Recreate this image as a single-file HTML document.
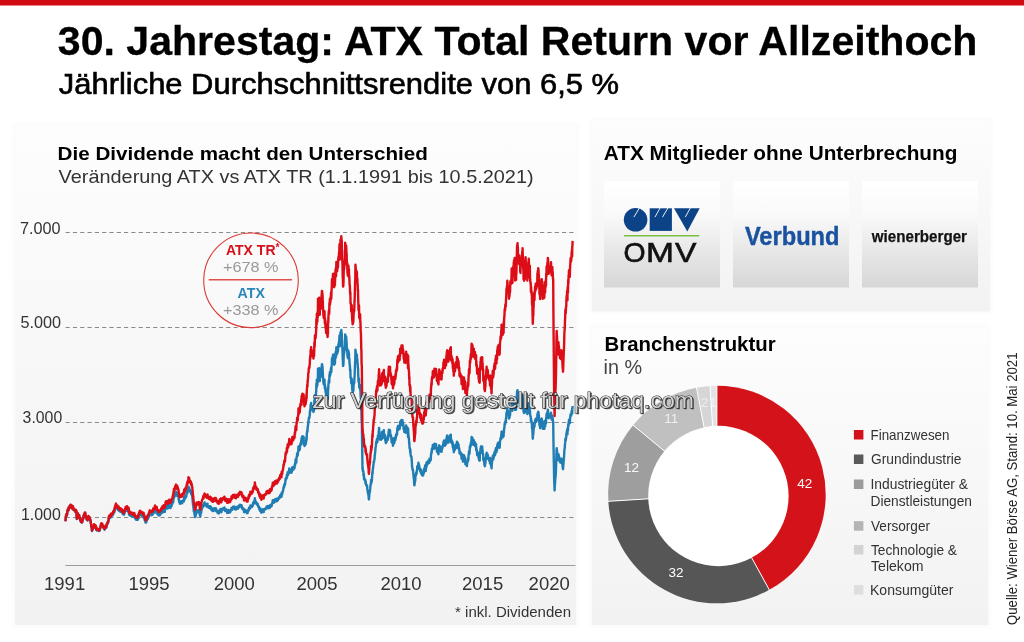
<!DOCTYPE html>
<html lang="de"><head><meta charset="utf-8"><title>30. Jahrestag: ATX Total Return vor Allzeithoch</title>
<style>
html,body{margin:0;padding:0;background:#fff;}
body{width:1024px;height:642px;overflow:hidden;}
svg{display:block;}
text{font-family:"Liberation Sans",Arial,Helvetica,sans-serif;}
</style></head><body>
<svg width="1024" height="642" viewBox="0 0 1024 642">
<defs>
<linearGradient id="gL" x1="0" y1="0" x2="0" y2="1">
<stop offset="0" stop-color="#fdfdfd"/><stop offset="0.35" stop-color="#f9f9f9"/><stop offset="1" stop-color="#f2f2f2"/>
</linearGradient>
<linearGradient id="gR" x1="0" y1="0" x2="0" y2="1">
<stop offset="0" stop-color="#fdfdfd"/><stop offset="1" stop-color="#f2f2f2"/>
</linearGradient>
<linearGradient id="gB" x1="0" y1="0" x2="0" y2="1">
<stop offset="0" stop-color="#ffffff"/><stop offset="0.3" stop-color="#fafafa"/><stop offset="1" stop-color="#d6d6d6"/>
</linearGradient>
<filter id="sh" x="-5%" y="-5%" width="110%" height="110%"><feGaussianBlur stdDeviation="2.5"/></filter>
</defs>
<rect x="0" y="0" width="1024" height="642" fill="#fff"/>
<rect x="0" y="0" width="1024" height="5.5" fill="#d20a11"/>

<!-- panels shadows -->
<rect x="13" y="124" width="565" height="503" fill="#000" opacity="0.02" filter="url(#sh)"/>
<rect x="590" y="118" width="402" height="195" fill="#000" opacity="0.018" filter="url(#sh)"/>
<rect x="590" y="325" width="400" height="302" fill="#000" opacity="0.018" filter="url(#sh)"/>
<!-- panels -->
<rect x="15" y="126" width="561" height="499" fill="url(#gL)"/>
<rect x="592" y="120" width="398" height="191.5" fill="url(#gR)"/>
<rect x="592" y="327.5" width="396" height="297.5" fill="url(#gR)"/>

<!-- titles -->
<text x="57.8" y="55.3" font-size="40" font-weight="bold" fill="#000" stroke="#000" stroke-width="0.3" textLength="919.6" lengthAdjust="spacingAndGlyphs">30. Jahrestag: ATX Total Return vor Allzeithoch</text>
<text x="58.8" y="94" font-size="28.6" fill="#000" stroke="#000" stroke-width="0.6" textLength="560.2" lengthAdjust="spacingAndGlyphs">Jährliche Durchschnittsrendite von 6,5 %</text>

<text x="57.6" y="160.1" font-size="18.4" font-weight="bold" fill="#000" textLength="370.2" lengthAdjust="spacingAndGlyphs">Die Dividende macht den Unterschied</text>
<text x="58.6" y="182.8" font-size="17.8" fill="#333" textLength="475" lengthAdjust="spacingAndGlyphs">Veränderung ATX vs ATX TR (1.1.1991 bis 10.5.2021)</text>

<!-- y axis -->
<g font-size="16.5" fill="#333">
<text x="20.00" y="233.5" textLength="40.60" lengthAdjust="spacingAndGlyphs">7.000</text>
<text x="20.40" y="327.8" textLength="40.60" lengthAdjust="spacingAndGlyphs">5.000</text>
<text x="22.60" y="422.5" textLength="39.60" lengthAdjust="spacingAndGlyphs">3.000</text>
<text x="21.00" y="519.6" textLength="39.80" lengthAdjust="spacingAndGlyphs">1.000</text>
</g>
<g stroke="#8a8a8a" stroke-width="1" stroke-dasharray="4.2 3.1" fill="none">
<path d="M65.6 232.5H574"/>
<path d="M65.6 327.5H574"/>
<path d="M65.6 422.5H574"/>
<path d="M65.6 517.5H574"/>
</g>
<path d="M65.4 565.5H575.5" stroke="#9c9c9c" stroke-width="1" fill="none"/>
<g font-size="18.5" fill="#333" text-anchor="middle">
<text x="64.6" y="590">1991</text>
<text x="149" y="590">1995</text>
<text x="234.3" y="590">2000</text>
<text x="317" y="590">2005</text>
<text x="401" y="590">2010</text>
<text x="482.6" y="590">2015</text>
<text x="549.2" y="590">2020</text>
</g>
<text x="571" y="616.6" font-size="15" fill="#333" text-anchor="end">* inkl. Dividenden</text>

<!-- chart lines -->
<path d="M65.50,521.2 65.65,518.6 65.80,516.5 65.97,516.3 66.14,515.6 66.31,514.1 66.49,515.7 66.66,515.4 66.83,515.5 67.00,515.0 67.16,513.6 67.32,512.5 67.48,510.7 67.64,510.4 67.80,509.6 67.97,509.6 68.14,509.1 68.31,508.3 68.47,509.3 68.64,510.3 68.81,507.5 68.98,508.0 69.15,507.7 69.32,506.9 69.49,507.7 69.66,507.2 69.83,505.7 69.99,506.5 70.16,505.8 70.33,506.3 70.50,505.0 70.67,505.0 70.83,506.6 71.00,507.8 71.17,506.9 71.33,505.9 71.50,505.5 71.67,507.6 71.83,506.6 72.00,506.2 72.17,507.7 72.33,508.7 72.50,507.3 72.67,506.2 72.85,507.3 73.02,508.5 73.19,507.5 73.36,509.0 73.54,510.0 73.71,508.9 73.88,510.1 74.05,510.1 74.23,510.2 74.40,510.6 74.57,509.8 74.73,510.8 74.90,510.8 75.07,511.1 75.23,511.8 75.40,510.1 75.57,511.9 75.73,510.3 75.90,510.2 76.07,511.4 76.23,512.3 76.40,511.3 76.60,515.4 76.80,519.1 76.96,518.6 77.11,518.7 77.27,516.8 77.43,515.6 77.59,515.0 77.74,514.3 77.90,513.7 78.07,514.2 78.23,516.2 78.40,515.6 78.57,516.3 78.73,516.0 78.90,515.9 79.07,516.5 79.23,515.6 79.40,517.4 79.57,518.5 79.73,518.0 79.90,519.2 80.07,518.6 80.25,520.4 80.42,519.8 80.59,521.5 80.76,521.7 80.94,521.1 81.11,521.4 81.28,522.2 81.45,522.5 81.63,521.7 81.80,522.4 81.96,522.6 82.12,521.2 82.28,520.4 82.44,521.9 82.60,519.9 82.76,519.6 82.92,518.6 83.08,519.4 83.24,518.8 83.40,517.8 83.57,517.6 83.73,515.5 83.90,516.8 84.07,514.8 84.23,514.2 84.40,514.7 84.57,513.7 84.73,514.3 84.90,513.2 85.07,512.9 85.23,512.9 85.40,515.4 85.57,516.1 85.73,515.8 85.90,516.3 86.07,517.5 86.23,517.5 86.40,518.7 86.57,518.8 86.73,519.7 86.90,518.6 87.07,519.1 87.25,519.3 87.42,519.5 87.59,520.6 87.76,518.8 87.94,518.6 88.11,518.1 88.28,517.8 88.45,516.6 88.63,517.0 88.80,517.1 88.96,517.5 89.12,518.1 89.28,517.4 89.44,518.0 89.60,518.7 89.76,518.6 89.92,520.0 90.08,519.9 90.24,520.6 90.40,520.2 90.56,521.1 90.72,522.6 90.88,523.6 91.04,524.1 91.20,526.3 91.36,527.1 91.52,527.6 91.68,527.2 91.84,530.3 92.00,531.0 92.16,530.2 92.31,530.3 92.47,530.0 92.63,528.9 92.79,527.9 92.94,527.5 93.10,527.2 93.26,526.2 93.42,526.1 93.58,528.0 93.74,527.3 93.90,526.9 94.06,525.0 94.22,526.2 94.38,525.9 94.54,526.7 94.70,525.7 94.87,526.3 95.05,526.5 95.22,526.6 95.39,525.8 95.56,528.2 95.74,527.9 95.91,526.7 96.08,527.4 96.25,530.0 96.43,529.3 96.60,528.8 96.77,529.5 96.94,530.5 97.11,530.0 97.29,529.7 97.46,529.2 97.63,529.4 97.80,529.5 97.97,530.0 98.14,529.8 98.31,530.0 98.49,530.1 98.66,529.8 98.83,531.1 99.00,531.1 99.16,530.4 99.33,530.5 99.49,530.8 99.66,530.6 99.82,529.7 99.99,529.3 100.15,528.6 100.31,527.5 100.48,527.7 100.64,527.5 100.81,525.8 100.97,525.1 101.14,524.2 101.30,524.3 101.47,524.0 101.63,524.9 101.80,524.9 101.97,524.7 102.13,524.3 102.30,525.4 102.47,525.4 102.63,526.7 102.80,526.9 102.97,526.4 103.13,526.9 103.30,527.4 103.47,527.4 103.65,528.4 103.82,528.6 103.99,528.4 104.16,528.8 104.34,528.0 104.51,529.7 104.68,529.3 104.85,529.2 105.03,528.2 105.20,528.2 105.36,527.7 105.52,526.6 105.68,527.6 105.84,527.9 106.00,527.4 106.16,527.3 106.32,527.9 106.48,527.0 106.64,525.0 106.80,525.2 106.97,524.8 107.13,524.2 107.30,523.8 107.47,523.3 107.63,523.9 107.80,523.8 107.97,522.9 108.13,522.0 108.30,522.2 108.46,521.6 108.62,519.9 108.78,518.0 108.94,517.9 109.10,516.8 109.26,516.7 109.43,516.6 109.59,517.2 109.76,517.4 109.92,516.6 110.09,518.0 110.25,516.5 110.41,517.6 110.58,517.2 110.74,517.5 110.91,515.0 111.07,515.7 111.24,516.0 111.40,515.4 111.57,515.1 111.74,515.7 111.91,516.0 112.09,515.4 112.26,514.8 112.43,515.3 112.60,515.3 112.77,514.8 112.94,513.7 113.11,514.3 113.29,514.2 113.46,512.4 113.63,512.2 113.80,512.4 113.96,512.4 114.13,511.4 114.29,512.3 114.46,510.6 114.62,510.4 114.79,508.6 114.95,508.8 115.11,507.7 115.28,509.4 115.44,508.3 115.61,506.5 115.77,505.7 115.94,505.3 116.10,506.4 116.27,506.9 116.44,508.3 116.61,508.0 116.79,507.5 116.96,507.4 117.13,507.1 117.30,507.2 117.47,507.1 117.64,507.8 117.81,508.3 117.99,508.8 118.16,510.0 118.33,507.9 118.50,508.7 118.67,508.2 118.83,510.7 119.00,509.2 119.17,510.0 119.33,510.3 119.50,510.2 119.67,510.7 119.83,510.4 120.00,509.9 120.17,510.9 120.33,511.8 120.50,510.5 120.67,510.5 120.83,511.2 121.00,510.5 121.17,510.5 121.33,510.8 121.50,510.6 121.67,511.3 121.83,512.5 122.00,511.3 122.17,511.8 122.33,511.8 122.50,512.4 122.67,513.2 122.83,514.1 123.00,513.4 123.17,512.7 123.33,514.6 123.50,513.4 123.67,512.7 123.83,513.9 124.00,513.6 124.17,514.6 124.34,512.8 124.51,512.2 124.67,512.3 124.84,511.1 125.01,511.3 125.18,510.5 125.35,510.7 125.52,509.8 125.68,509.0 125.85,510.0 126.02,509.7 126.19,509.5 126.36,510.7 126.53,509.6 126.69,509.5 126.86,509.7 127.03,508.2 127.20,509.3 127.36,510.8 127.53,509.6 127.69,510.3 127.85,510.9 128.02,510.9 128.18,511.7 128.34,510.4 128.51,511.8 128.67,510.0 128.83,513.8 128.99,513.1 129.16,514.1 129.32,515.2 129.48,514.6 129.65,514.2 129.81,513.4 129.97,513.8 130.14,514.5 130.30,515.4 130.47,515.6 130.64,515.4 130.81,515.7 130.98,515.4 131.15,516.0 131.32,515.6 131.49,515.6 131.66,514.6 131.83,515.5 132.00,515.6 132.17,516.5 132.33,515.6 132.50,515.3 132.67,516.6 132.84,515.6 133.01,515.5 133.18,516.6 133.35,515.8 133.52,516.7 133.69,515.6 133.86,516.0 134.03,515.2 134.20,515.6 134.37,515.4 134.54,516.1 134.71,517.3 134.89,518.0 135.06,517.5 135.23,517.7 135.40,518.0 135.57,519.0 135.74,518.5 135.91,518.8 136.09,519.7 136.26,518.8 136.43,518.4 136.60,518.7 136.76,519.0 136.93,519.9 137.09,519.1 137.25,518.5 137.42,518.8 137.58,519.4 137.74,519.7 137.91,519.6 138.07,517.6 138.23,517.7 138.39,516.7 138.56,518.5 138.72,516.4 138.88,516.6 139.05,515.9 139.21,514.6 139.37,515.2 139.54,514.9 139.70,514.4 139.86,513.2 140.03,513.9 140.19,514.8 140.35,513.8 140.52,514.2 140.68,514.0 140.84,515.0 141.01,514.1 141.17,514.6 141.33,515.3 141.49,515.2 141.66,514.8 141.82,515.0 141.98,514.8 142.15,515.3 142.31,515.8 142.47,515.1 142.64,516.0 142.80,515.3 142.97,515.6 143.14,515.2 143.31,517.3 143.47,516.4 143.64,515.7 143.81,517.6 143.98,517.0 144.15,518.6 144.32,518.1 144.48,518.5 144.65,520.2 144.82,519.7 144.99,519.6 145.16,519.5 145.33,521.6 145.49,522.5 145.66,521.0 145.83,522.1 146.00,522.1 146.17,522.5 146.33,521.9 146.50,520.3 146.66,520.2 146.83,520.6 146.99,519.4 147.16,519.9 147.32,519.0 147.49,518.7 147.65,518.0 147.82,517.6 147.98,518.7 148.15,517.7 148.31,517.2 148.48,517.0 148.64,516.8 148.81,516.5 148.97,515.5 149.14,515.4 149.30,514.9 149.47,514.6 149.63,513.7 149.80,513.4 149.97,513.9 150.14,513.9 150.31,514.4 150.49,514.2 150.66,514.4 150.83,514.6 151.00,515.0 151.17,514.7 151.34,514.9 151.51,515.2 151.69,513.8 151.86,514.6 152.03,515.0 152.20,515.0 152.36,514.0 152.53,514.5 152.69,513.8 152.85,514.0 153.02,514.2 153.18,511.8 153.34,512.9 153.51,512.1 153.67,512.6 153.83,512.5 153.99,511.7 154.16,512.0 154.32,511.7 154.48,512.0 154.65,512.5 154.81,509.6 154.97,509.1 155.14,510.7 155.30,510.0 155.46,510.5 155.63,511.5 155.79,512.0 155.95,511.7 156.12,512.0 156.28,512.0 156.44,511.1 156.61,510.4 156.77,510.8 156.93,512.3 157.09,513.8 157.26,513.7 157.42,514.0 157.58,514.0 157.75,513.4 157.91,514.2 158.07,513.5 158.24,514.4 158.40,515.3 158.56,514.9 158.72,514.9 158.88,514.3 159.04,514.0 159.20,515.5 159.36,515.3 159.52,514.3 159.68,514.6 159.84,514.8 160.00,514.3 160.17,514.4 160.34,514.9 160.50,513.7 160.67,513.5 160.84,513.9 161.01,512.6 161.18,513.2 161.35,512.8 161.51,511.8 161.68,511.4 161.85,511.5 162.02,512.5 162.19,511.2 162.35,510.7 162.52,510.2 162.69,512.5 162.86,511.3 163.03,510.7 163.20,509.9 163.36,510.9 163.53,510.3 163.70,511.2 163.87,509.5 164.03,511.1 164.20,510.4 164.36,511.4 164.53,510.1 164.69,511.1 164.86,511.9 165.02,508.9 165.19,508.7 165.35,508.0 165.52,506.8 165.68,506.8 165.85,508.3 166.01,506.9 166.18,506.0 166.34,506.7 166.51,508.2 166.67,507.1 166.84,507.3 167.00,507.5 167.17,508.0 167.33,508.6 167.50,507.2 167.66,506.9 167.83,505.9 167.99,507.6 168.15,507.6 168.32,506.7 168.48,508.0 168.65,507.5 168.81,505.3 168.97,507.6 169.14,506.3 169.30,504.8 169.47,505.5 169.65,505.7 169.82,506.0 169.99,506.2 170.16,506.0 170.34,506.4 170.51,508.0 170.68,507.3 170.85,506.4 171.03,505.6 171.20,505.8 171.37,505.3 171.55,506.0 171.72,504.4 171.89,504.7 172.06,504.4 172.24,503.8 172.41,503.1 172.58,502.4 172.75,502.9 172.93,501.1 173.10,500.8 173.27,502.2 173.45,498.3 173.62,499.0 173.79,497.6 173.96,495.5 174.14,496.8 174.31,496.3 174.48,496.8 174.65,495.2 174.83,494.3 175.00,494.2 175.18,493.2 175.35,493.2 175.53,493.3 175.70,493.1 175.88,492.1 176.05,491.7 176.22,494.1 176.40,493.0 176.58,494.3 176.75,495.7 176.93,493.0 177.10,492.7 177.28,494.6 177.45,494.5 177.62,493.9 177.80,494.5 177.98,494.8 178.16,496.5 178.34,496.7 178.52,496.8 178.70,498.8 178.88,500.6 179.05,500.0 179.22,502.2 179.40,502.7 179.57,502.3 179.75,502.6 179.92,503.8 180.10,503.2 180.28,503.1 180.45,501.7 180.62,502.8 180.80,501.8 180.97,501.8 181.15,502.2 181.32,502.1 181.50,502.5 181.67,501.2 181.85,503.3 182.02,501.1 182.19,503.2 182.36,501.9 182.54,501.9 182.71,500.8 182.88,500.5 183.05,501.4 183.23,501.1 183.40,500.1 183.56,500.9 183.73,501.6 183.89,499.8 184.05,498.6 184.22,497.0 184.38,498.6 184.55,499.7 184.71,498.5 184.87,498.6 185.04,498.4 185.20,496.2 185.37,497.6 185.55,496.4 185.72,497.6 185.89,495.5 186.06,496.3 186.24,496.6 186.41,495.5 186.58,493.4 186.75,493.8 186.93,492.6 187.10,491.4 187.27,491.7 187.45,492.9 187.62,490.4 187.79,489.8 187.96,490.3 188.14,489.5 188.31,488.7 188.48,486.6 188.65,487.0 188.83,488.5 189.00,487.4 189.16,487.2 189.33,490.1 189.49,488.9 189.65,489.9 189.82,491.6 189.98,489.9 190.15,490.4 190.31,492.0 190.47,490.6 190.64,490.6 190.80,491.3 190.98,491.5 191.15,493.9 191.32,494.1 191.50,494.5 191.68,493.3 191.85,495.3 192.02,495.6 192.20,495.9 192.38,497.4 192.55,499.9 192.72,501.1 192.90,503.2 193.07,505.2 193.25,504.5 193.42,507.7 193.60,508.5 193.78,511.5 193.95,510.3 194.12,512.0 194.30,511.9 194.47,514.0 194.65,514.6 194.82,515.4 195.00,517.0 195.18,515.4 195.35,515.9 195.53,516.6 195.70,515.0 195.88,513.4 196.05,513.8 196.22,512.1 196.40,512.1 196.57,510.6 196.75,512.7 196.92,510.8 197.09,511.6 197.26,511.8 197.44,511.2 197.61,510.7 197.78,510.6 197.95,510.9 198.13,512.3 198.30,510.4 198.47,510.1 198.65,511.0 198.82,511.3 198.99,510.1 199.16,512.3 199.34,512.8 199.51,512.6 199.68,514.0 199.85,515.4 200.03,515.0 200.20,515.9 200.37,516.4 200.55,514.0 200.72,512.5 200.89,512.1 201.06,513.1 201.24,511.5 201.41,510.2 201.58,509.9 201.75,509.5 201.93,508.5 202.10,508.5 202.26,507.7 202.43,507.5 202.59,507.0 202.76,507.2 202.92,506.1 203.09,506.6 203.25,504.8 203.41,504.5 203.58,506.5 203.74,504.8 203.91,504.3 204.07,503.5 204.24,504.0 204.40,502.8 204.58,502.4 204.75,503.0 204.93,503.6 205.10,503.9 205.28,504.2 205.45,504.1 205.62,503.8 205.80,504.6 205.97,504.6 206.15,505.9 206.32,505.8 206.49,505.7 206.66,505.2 206.84,506.7 207.01,506.2 207.18,505.5 207.35,505.1 207.53,503.7 207.70,505.0 207.86,506.0 208.03,506.5 208.19,506.3 208.35,506.6 208.52,505.9 208.68,507.9 208.85,506.4 209.01,507.8 209.17,508.0 209.34,508.0 209.50,507.7 209.66,507.2 209.83,507.5 209.99,507.4 210.16,506.2 210.32,507.5 210.49,506.8 210.65,509.0 210.82,507.0 210.98,507.1 211.15,508.0 211.31,508.5 211.48,510.0 211.64,509.3 211.81,507.9 211.97,508.8 212.14,509.5 212.30,509.9 212.47,509.1 212.63,511.1 212.80,510.5 212.96,510.1 213.13,511.1 213.29,510.5 213.46,509.9 213.62,509.9 213.79,508.6 213.95,508.9 214.12,509.3 214.28,508.2 214.45,508.2 214.61,508.5 214.78,508.4 214.94,508.9 215.11,509.7 215.27,510.6 215.44,509.1 215.60,509.9 215.77,508.3 215.93,509.2 216.10,508.9 216.26,509.2 216.43,511.5 216.59,510.6 216.75,511.0 216.92,510.6 217.08,511.4 217.25,511.9 217.41,512.2 217.57,511.4 217.74,513.0 217.90,512.2 218.07,511.7 218.23,511.9 218.40,511.1 218.56,511.6 218.73,513.5 218.89,511.3 219.06,512.0 219.22,512.3 219.39,512.2 219.55,512.0 219.72,512.3 219.88,509.4 220.05,510.6 220.21,510.5 220.38,510.8 220.54,509.3 220.71,508.9 220.87,509.4 221.04,511.9 221.20,511.7 221.37,512.2 221.53,510.0 221.70,510.7 221.87,510.9 222.04,510.5 222.20,510.5 222.37,509.7 222.54,509.6 222.71,508.5 222.88,508.6 223.05,509.4 223.21,509.2 223.38,508.2 223.55,508.6 223.72,508.7 223.89,508.9 224.05,508.9 224.22,508.4 224.39,507.4 224.56,509.9 224.73,510.2 224.90,509.3 225.06,510.9 225.23,511.0 225.40,510.0 225.57,510.3 225.73,510.1 225.90,509.7 226.06,509.3 226.23,510.2 226.39,509.6 226.56,510.5 226.72,510.5 226.89,511.6 227.05,512.3 227.22,512.9 227.38,511.5 227.55,512.0 227.71,511.9 227.88,511.6 228.04,510.8 228.21,510.8 228.37,510.0 228.54,511.4 228.70,512.8 228.87,511.5 229.03,511.4 229.20,511.8 229.40,511.6 229.60,512.3 229.77,512.2 229.94,511.1 230.11,512.4 230.28,511.9 230.45,510.6 230.62,509.9 230.78,510.2 230.95,510.6 231.12,510.6 231.29,510.2 231.46,507.9 231.63,508.5 231.80,509.5 231.97,507.9 232.14,508.8 232.31,509.7 232.48,508.1 232.65,508.1 232.82,507.0 232.98,506.7 233.15,507.0 233.32,507.0 233.49,506.8 233.66,507.4 233.83,507.5 234.00,507.3 234.17,506.7 234.33,507.6 234.50,508.1 234.67,506.6 234.83,509.3 235.00,509.1 235.17,507.1 235.33,508.7 235.50,507.6 235.67,509.6 235.83,508.6 236.00,509.6 236.17,507.6 236.33,507.8 236.50,509.0 236.67,507.3 236.83,507.5 237.00,507.8 237.17,507.4 237.33,506.8 237.50,507.8 237.67,508.0 237.83,507.5 238.00,508.7 238.17,506.6 238.33,507.2 238.50,506.3 238.67,507.6 238.83,505.8 239.00,507.0 239.17,507.2 239.33,506.0 239.50,505.6 239.67,506.0 239.83,506.1 240.00,504.6 240.17,504.8 240.33,505.5 240.50,505.9 240.67,505.4 240.84,505.7 241.01,506.5 241.18,505.1 241.35,506.1 241.52,505.2 241.68,506.0 241.85,506.9 242.02,508.0 242.19,508.3 242.36,508.9 242.53,507.5 242.70,509.4 242.87,509.2 243.04,508.7 243.21,509.3 243.38,508.9 243.55,508.5 243.72,509.5 243.88,509.3 244.05,512.1 244.22,510.5 244.39,512.2 244.56,511.7 244.73,511.4 244.90,510.7 245.06,511.8 245.22,509.9 245.38,510.4 245.55,511.8 245.71,510.2 245.87,511.1 246.03,510.5 246.19,511.8 246.35,511.7 246.52,512.5 246.68,511.7 246.84,513.2 247.00,512.6 247.17,513.0 247.34,513.0 247.51,513.1 247.68,512.3 247.85,511.8 248.02,511.3 248.18,510.5 248.35,511.0 248.52,509.1 248.69,510.7 248.86,509.3 249.03,507.8 249.20,509.4 249.37,508.5 249.54,508.5 249.71,507.7 249.88,507.7 250.05,508.5 250.22,507.3 250.38,505.4 250.55,507.3 250.72,507.2 250.89,507.1 251.06,506.4 251.23,506.1 251.40,506.8 251.56,506.5 251.73,507.0 251.90,506.9 252.06,506.1 252.22,505.5 252.39,505.1 252.56,506.1 252.72,504.7 252.88,505.6 253.05,502.9 253.22,504.3 253.38,502.6 253.54,503.7 253.71,503.6 253.88,501.4 254.04,502.2 254.20,502.7 254.37,502.7 254.53,500.6 254.70,500.9 254.87,498.3 255.04,499.5 255.21,500.8 255.37,501.3 255.54,502.1 255.71,501.7 255.88,502.1 256.05,501.8 256.22,503.4 256.38,504.0 256.55,502.7 256.72,504.5 256.89,503.4 257.06,503.6 257.23,504.6 257.39,504.2 257.56,504.5 257.73,504.0 257.90,505.5 258.06,505.2 258.23,506.9 258.39,506.3 258.56,506.2 258.72,506.5 258.89,507.7 259.06,507.0 259.22,508.8 259.38,508.6 259.55,509.7 259.71,510.1 259.88,510.4 260.04,509.7 260.21,511.1 260.38,508.5 260.54,510.3 260.70,510.5 260.87,511.3 261.03,511.7 261.20,511.9 261.37,512.8 261.53,512.5 261.69,512.2 261.86,511.7 262.02,511.0 262.19,509.5 262.36,510.8 262.52,510.2 262.69,509.6 262.85,509.8 263.01,511.6 263.18,509.3 263.34,511.6 263.51,510.8 263.68,512.1 263.84,510.0 264.00,510.3 264.17,509.6 264.33,509.5 264.50,509.6 264.67,509.0 264.83,509.6 265.00,509.3 265.16,509.2 265.33,508.5 265.49,509.2 265.66,509.2 265.82,508.9 265.99,508.1 266.15,508.6 266.32,508.3 266.48,506.6 266.65,508.0 266.82,506.8 266.98,507.5 267.15,507.8 267.31,508.0 267.48,506.9 267.64,506.2 267.81,506.0 267.97,506.0 268.14,508.0 268.30,507.0 268.47,507.2 268.63,508.3 268.80,508.3 268.97,507.1 269.13,506.2 269.30,507.1 269.46,507.2 269.62,507.6 269.79,507.8 269.96,505.2 270.12,506.1 270.29,506.1 270.45,506.3 270.62,505.0 270.78,505.8 270.94,505.6 271.11,506.5 271.28,506.2 271.44,505.4 271.61,506.0 271.77,504.6 271.94,503.5 272.10,503.4 272.27,503.2 272.43,502.4 272.60,502.2 272.76,500.3 272.93,501.4 273.09,502.5 273.25,503.0 273.42,501.5 273.58,501.8 273.75,501.8 273.92,502.5 274.08,501.1 274.25,500.0 274.41,500.2 274.57,500.4 274.74,501.1 274.90,499.8 275.07,499.3 275.23,500.5 275.40,500.3 275.57,501.6 275.73,499.5 275.90,499.7 276.06,499.5 276.23,500.3 276.39,498.8 276.56,500.3 276.72,500.3 276.89,500.7 277.05,501.2 277.22,500.6 277.38,500.7 277.55,499.9 277.72,500.4 277.88,499.9 278.05,500.1 278.21,499.4 278.38,498.4 278.54,497.9 278.71,497.8 278.87,498.0 279.04,498.6 279.20,497.2 279.37,496.8 279.53,496.7 279.70,498.1 279.87,496.7 280.03,497.3 280.19,495.1 280.36,497.1 280.52,496.4 280.69,496.3 280.86,494.8 281.02,494.5 281.19,495.4 281.35,493.9 281.51,496.9 281.68,492.7 281.84,492.8 282.01,494.2 282.18,494.5 282.34,493.4 282.50,491.9 282.67,491.9 282.83,491.6 283.00,490.9 283.17,489.8 283.34,489.4 283.51,487.3 283.68,487.8 283.85,487.0 284.02,487.5 284.18,485.5 284.35,484.4 284.52,485.8 284.69,485.3 284.86,483.8 285.03,484.7 285.20,482.7 285.36,481.0 285.52,479.8 285.68,478.5 285.85,478.8 286.01,479.4 286.17,479.1 286.33,478.4 286.49,477.2 286.65,477.5 286.82,474.9 286.98,478.0 287.14,475.9 287.30,474.6 287.47,474.2 287.63,472.3 287.80,472.7 287.96,473.5 288.12,474.9 288.29,473.5 288.46,473.7 288.62,471.4 288.79,471.7 288.95,470.6 289.12,470.5 289.28,468.4 289.44,471.1 289.61,469.1 289.78,469.3 289.94,470.6 290.11,470.7 290.27,472.6 290.44,470.8 290.60,470.1 290.77,471.9 290.93,470.4 291.10,472.7 291.26,469.7 291.43,472.3 291.59,472.5 291.75,469.6 291.92,471.5 292.08,468.8 292.25,467.3 292.42,469.7 292.58,470.1 292.75,469.8 292.91,467.2 293.07,469.7 293.24,469.7 293.40,469.1 293.57,468.2 293.73,467.1 293.90,468.0 294.07,467.3 294.24,468.5 294.41,467.0 294.58,468.0 294.75,464.4 294.92,464.8 295.08,465.3 295.25,462.9 295.42,461.4 295.59,459.4 295.76,460.8 295.93,460.8 296.10,460.9 296.27,462.6 296.44,459.4 296.61,457.0 296.77,457.1 296.94,457.0 297.11,453.4 297.28,455.4 297.45,455.0 297.62,455.6 297.78,455.1 297.95,452.3 298.12,451.5 298.29,451.7 298.46,446.5 298.63,451.2 298.79,449.4 298.96,449.0 299.13,448.0 299.30,448.2 299.47,446.4 299.63,445.9 299.80,449.8 299.96,447.0 300.12,446.3 300.29,444.4 300.46,443.5 300.62,443.1 300.79,443.7 300.95,443.4 301.12,441.8 301.28,440.3 301.44,444.4 301.61,438.0 301.78,438.2 301.94,437.2 302.11,438.5 302.27,437.2 302.44,436.1 302.60,436.5 302.77,438.6 302.94,441.5 303.11,438.6 303.28,441.2 303.45,440.8 303.62,436.9 303.78,439.4 303.95,440.9 304.12,444.7 304.29,441.6 304.46,446.0 304.63,445.6 304.80,445.6 304.97,442.5 305.13,444.8 305.30,444.7 305.46,443.9 305.62,444.4 305.79,443.9 305.96,440.8 306.12,442.2 306.29,439.4 306.45,437.4 306.62,440.4 306.78,434.9 306.94,432.6 307.11,432.1 307.28,430.2 307.44,431.8 307.61,427.5 307.77,427.9 307.94,425.5 308.10,424.9 308.27,421.7 308.44,421.4 308.61,421.4 308.77,418.2 308.94,418.7 309.11,417.4 309.28,418.2 309.45,417.5 309.62,415.7 309.78,415.4 309.95,411.0 310.12,411.9 310.29,409.1 310.46,410.8 310.63,404.9 310.79,407.9 310.96,408.9 311.13,403.0 311.30,406.7 311.47,408.7 311.64,408.2 311.81,407.0 311.98,406.4 312.15,409.2 312.32,407.7 312.48,408.4 312.65,410.0 312.82,409.3 312.99,406.1 313.16,410.4 313.33,411.7 313.50,411.9 313.67,407.5 313.84,410.2 314.01,410.3 314.19,407.2 314.36,400.4 314.53,403.8 314.70,402.9 314.87,396.7 315.04,395.0 315.21,397.1 315.39,395.6 315.56,397.5 315.73,395.8 315.90,394.9 316.06,392.4 316.22,391.5 316.38,383.4 316.54,383.3 316.70,387.6 316.86,379.6 317.02,383.9 317.18,384.4 317.34,385.5 317.50,381.4 317.67,378.3 317.83,382.2 318.00,368.8 318.17,371.7 318.33,372.3 318.50,378.5 318.67,375.4 318.83,377.6 319.00,372.6 319.16,368.3 319.32,374.7 319.48,376.0 319.64,377.1 319.80,381.1 319.96,376.7 320.12,375.7 320.28,372.8 320.44,377.1 320.60,376.5 320.77,375.2 320.93,372.7 321.10,376.5 321.27,373.7 321.43,370.7 321.60,367.1 321.77,367.0 321.93,364.1 322.10,364.3 322.26,369.2 322.42,366.0 322.58,368.3 322.74,371.5 322.90,374.8 323.06,377.9 323.22,378.4 323.38,382.2 323.54,382.9 323.70,384.1 323.86,384.4 324.03,383.8 324.19,384.7 324.36,381.1 324.52,379.7 324.69,385.6 324.85,388.4 325.01,385.1 325.18,389.4 325.34,387.0 325.51,390.9 325.67,392.4 325.84,389.9 326.00,393.7 326.16,396.0 326.32,393.0 326.48,389.7 326.64,390.9 326.80,394.2 326.96,395.8 327.12,392.1 327.28,394.0 327.44,398.2 327.60,399.2 327.77,395.8 327.93,397.3 328.10,387.8 328.27,389.4 328.43,383.9 328.60,383.1 328.77,380.9 328.93,380.5 329.10,379.8 329.26,382.8 329.42,374.9 329.58,376.9 329.74,374.9 329.90,372.0 330.06,376.0 330.22,374.2 330.38,374.4 330.54,373.5 330.70,372.3 330.86,369.7 331.02,368.0 331.18,372.3 331.34,371.2 331.50,366.9 331.66,365.4 331.82,363.4 331.98,358.3 332.14,361.8 332.30,360.2 332.48,358.8 332.65,360.5 332.82,357.4 333.00,354.8 333.16,359.0 333.32,358.6 333.48,354.8 333.64,358.3 333.80,361.9 333.96,361.0 334.12,364.8 334.28,362.8 334.44,360.4 334.60,364.2 334.76,358.5 334.92,363.6 335.08,359.9 335.24,358.4 335.40,354.8 335.56,352.6 335.72,351.8 335.88,352.4 336.04,357.4 336.20,352.4 336.36,347.2 336.53,352.6 336.69,354.1 336.86,350.5 337.02,349.6 337.19,354.0 337.35,347.9 337.51,350.0 337.68,350.6 337.84,351.7 338.01,350.6 338.17,346.3 338.34,345.9 338.50,344.1 338.67,344.8 338.83,344.7 339.00,341.4 339.17,342.4 339.33,338.9 339.50,335.4 339.67,341.3 339.83,346.4 340.00,335.5 340.16,336.1 340.32,338.1 340.48,332.3 340.64,336.3 340.80,334.3 340.96,337.3 341.12,335.7 341.28,330.0 341.44,331.4 341.60,333.1 341.76,333.2 341.92,342.0 342.08,339.8 342.24,346.4 342.40,348.4 342.56,352.4 342.72,359.8 342.88,358.4 343.04,365.9 343.20,365.8 343.37,364.4 343.53,362.0 343.70,355.4 343.87,354.4 344.03,350.1 344.20,353.3 344.37,349.3 344.53,350.7 344.70,347.9 344.86,346.0 345.02,344.9 345.18,334.4 345.34,336.4 345.50,342.1 345.66,339.8 345.82,344.2 345.98,338.4 346.14,336.4 346.30,337.8 346.46,343.4 346.62,341.8 346.78,347.1 346.94,348.9 347.10,351.2 347.27,348.9 347.43,355.9 347.60,353.9 347.77,357.7 347.93,356.9 348.10,358.3 348.27,352.6 348.43,350.8 348.60,354.4 348.76,355.4 348.92,353.3 349.08,358.7 349.24,358.0 349.40,359.9 349.56,363.9 349.72,364.2 349.88,365.6 350.04,369.3 350.20,371.0 350.37,369.6 350.53,377.7 350.70,377.2 350.87,378.7 351.03,378.4 351.20,383.1 351.37,382.0 351.53,383.5 351.70,378.8 351.86,383.8 352.02,385.6 352.18,388.8 352.34,390.1 352.50,391.1 352.66,392.5 352.82,388.3 352.98,391.8 353.14,389.7 353.30,390.9 353.47,388.1 353.63,385.4 353.80,383.6 353.97,382.0 354.13,383.3 354.30,381.4 354.47,377.0 354.63,375.4 354.80,370.8 354.96,366.3 355.12,361.2 355.28,362.0 355.44,349.6 355.60,350.7 355.76,353.1 355.92,358.8 356.08,358.1 356.24,353.6 356.40,356.5 356.56,356.2 356.72,354.6 356.88,354.9 357.04,359.2 357.20,361.7 357.37,359.7 357.53,363.8 357.70,363.5 357.87,368.3 358.03,367.6 358.20,374.8 358.37,377.3 358.53,382.0 358.70,380.7 358.86,382.4 359.02,378.6 359.18,387.6 359.34,387.2 359.50,386.7 359.66,384.9 359.82,387.8 359.98,388.7 360.14,385.0 360.30,390.6 360.46,390.0 360.62,395.7 360.78,397.6 360.94,399.2 361.10,403.4 361.26,410.2 361.42,410.7 361.58,420.7 361.74,421.0 361.90,426.3 362.05,439.5 362.20,446.1 362.35,459.4 362.50,469.3 362.67,467.2 362.84,471.1 363.01,470.7 363.18,470.8 363.35,471.4 363.52,475.8 363.68,475.4 363.85,474.1 364.02,479.4 364.19,477.5 364.36,479.0 364.53,479.7 364.70,480.2 364.87,479.5 365.04,479.4 365.21,480.4 365.38,480.1 365.55,483.8 365.72,481.4 365.88,482.8 366.05,484.6 366.22,485.3 366.39,485.3 366.56,485.5 366.73,485.5 366.90,486.5 367.07,485.5 367.24,488.1 367.41,489.8 367.58,490.2 367.75,492.0 367.92,492.2 368.08,493.6 368.25,494.1 368.42,495.0 368.59,495.9 368.76,498.7 368.93,499.3 369.10,497.4 369.27,495.5 369.44,491.7 369.61,493.1 369.78,490.7 369.95,491.7 370.12,489.2 370.28,488.2 370.45,485.5 370.62,484.2 370.79,484.8 370.96,482.7 371.13,479.7 371.30,480.6 371.46,483.0 371.62,480.2 371.78,481.0 371.95,479.6 372.11,476.1 372.27,473.8 372.43,471.7 372.59,473.8 372.75,470.2 372.92,468.8 373.08,468.1 373.24,465.7 373.40,465.7 373.56,463.6 373.73,461.6 373.89,462.4 374.06,461.6 374.22,460.2 374.39,459.5 374.56,458.8 374.72,455.3 374.88,455.0 375.05,453.2 375.21,451.8 375.38,450.1 375.54,447.2 375.71,447.2 375.88,445.9 376.04,443.9 376.20,441.9 376.37,443.4 376.53,442.9 376.70,440.4 376.87,439.9 377.04,439.0 377.21,439.8 377.38,442.3 377.55,438.8 377.72,438.3 377.88,436.1 378.05,435.5 378.22,436.5 378.39,435.8 378.56,435.6 378.73,431.3 378.90,432.1 379.07,427.9 379.24,431.8 379.41,431.9 379.58,435.0 379.75,434.8 379.92,439.6 380.08,436.8 380.25,435.7 380.42,436.6 380.59,437.1 380.76,436.4 380.93,439.8 381.10,437.4 381.26,437.6 381.42,439.0 381.58,437.0 381.75,439.1 381.91,434.9 382.07,431.9 382.23,436.6 382.39,438.0 382.55,436.5 382.72,432.5 382.88,436.7 383.04,431.4 383.20,432.1 383.37,432.8 383.53,431.6 383.69,432.6 383.86,430.1 384.02,435.4 384.19,435.5 384.36,436.8 384.52,436.6 384.69,438.1 384.85,438.6 385.01,435.0 385.18,436.5 385.34,440.9 385.51,440.6 385.68,441.8 385.84,443.1 386.00,441.3 386.17,439.8 386.33,441.1 386.50,442.1 386.67,440.2 386.84,438.9 387.01,439.6 387.18,439.2 387.35,438.3 387.52,439.1 387.68,437.1 387.85,439.8 388.02,438.4 388.19,435.3 388.36,435.4 388.53,432.0 388.70,431.0 388.87,429.7 389.03,431.5 389.19,434.8 389.36,432.5 389.52,435.1 389.69,431.8 389.86,432.7 390.02,430.2 390.19,433.6 390.35,434.1 390.51,436.5 390.68,434.8 390.84,435.2 391.01,435.6 391.18,437.0 391.34,438.9 391.50,439.6 391.67,442.3 391.83,442.5 392.00,442.5 392.17,442.7 392.33,441.0 392.50,441.9 392.67,441.3 392.83,443.5 393.00,445.8 393.17,441.8 393.33,440.7 393.50,438.3 393.67,443.9 393.83,443.4 394.00,440.2 394.17,439.3 394.33,443.0 394.50,438.3 394.67,439.0 394.83,439.1 395.00,439.0 395.17,439.5 395.34,440.3 395.50,436.9 395.67,438.9 395.84,437.1 396.01,434.7 396.18,435.1 396.35,435.4 396.51,435.5 396.68,433.7 396.85,433.0 397.02,434.6 397.19,431.1 397.35,428.0 397.52,428.2 397.69,429.9 397.86,426.7 398.03,425.9 398.20,429.9 398.36,429.3 398.53,426.8 398.70,427.5 398.87,425.6 399.03,427.3 399.19,428.2 399.36,428.5 399.52,429.0 399.69,428.6 399.86,425.1 400.02,426.6 400.19,421.6 400.35,423.0 400.51,424.0 400.68,423.7 400.84,423.4 401.01,423.6 401.18,422.6 401.34,423.1 401.50,419.9 401.67,425.0 401.83,422.9 402.00,423.6 402.17,422.5 402.34,424.7 402.51,420.3 402.68,423.2 402.85,423.7 403.02,422.9 403.18,424.1 403.35,425.6 403.52,426.9 403.69,429.4 403.86,428.1 404.03,429.2 404.20,430.7 404.36,432.1 404.52,431.9 404.68,429.1 404.85,428.5 405.01,428.7 405.17,429.9 405.33,429.3 405.49,432.7 405.65,429.2 405.82,426.5 405.98,427.5 406.14,425.4 406.30,428.4 406.47,432.0 406.64,429.4 406.81,431.8 406.98,432.4 407.15,431.7 407.32,431.7 407.48,427.8 407.65,431.9 407.82,430.1 407.99,436.6 408.16,428.8 408.33,434.2 408.50,434.8 408.67,437.7 408.84,438.8 409.01,439.1 409.18,443.9 409.35,442.7 409.52,448.3 409.68,448.1 409.85,447.9 410.02,449.1 410.19,452.6 410.36,449.5 410.53,453.8 410.70,455.1 410.87,456.1 411.04,456.6 411.21,456.2 411.38,457.2 411.55,457.1 411.72,460.7 411.88,462.5 412.05,466.5 412.22,467.0 412.39,468.3 412.56,469.8 412.73,469.5 412.90,469.6 413.07,471.0 413.23,473.0 413.40,475.0 413.57,476.1 413.73,478.3 413.90,478.4 414.07,480.8 414.23,484.9 414.40,485.3 414.57,484.3 414.74,483.0 414.91,482.2 415.08,480.6 415.25,480.9 415.42,476.5 415.59,476.2 415.76,474.4 415.93,475.1 416.10,473.0 416.27,472.5 416.44,472.7 416.61,473.7 416.78,470.6 416.95,471.0 417.12,470.3 417.28,466.1 417.45,468.2 417.62,467.9 417.79,468.3 417.96,466.2 418.13,466.1 418.30,463.7 418.47,462.8 418.64,464.5 418.81,464.5 418.98,465.5 419.15,465.1 419.32,468.1 419.48,468.9 419.65,468.0 419.82,469.4 419.99,468.5 420.16,470.6 420.33,471.6 420.50,471.0 420.67,471.3 420.84,469.8 421.01,473.2 421.18,469.6 421.35,472.9 421.52,472.5 421.68,474.5 421.85,472.5 422.02,473.8 422.19,475.4 422.36,475.1 422.53,474.7 422.70,475.6 422.87,475.3 423.04,475.1 423.21,475.2 423.38,473.2 423.55,472.1 423.72,473.4 423.88,471.1 424.05,470.3 424.22,468.7 424.39,470.5 424.56,470.7 424.73,467.8 424.90,469.1 425.07,465.5 425.24,466.8 425.41,467.2 425.57,470.3 425.74,471.0 425.91,468.3 426.08,467.1 426.25,468.0 426.42,463.1 426.58,465.2 426.75,462.3 426.92,465.7 427.09,464.2 427.26,463.7 427.43,464.2 427.59,462.2 427.76,463.7 427.93,462.3 428.10,462.9 428.26,460.6 428.43,462.9 428.59,463.0 428.76,463.0 428.92,463.1 429.09,463.1 429.25,461.4 429.41,460.8 429.58,458.6 429.74,460.5 429.91,461.3 430.07,459.9 430.24,459.3 430.40,459.3 430.56,458.7 430.72,460.3 430.88,457.2 431.04,454.2 431.20,454.5 431.36,452.4 431.52,451.5 431.68,452.9 431.84,448.9 432.00,449.6 432.16,449.1 432.31,448.0 432.47,448.3 432.63,449.3 432.79,444.9 432.94,447.5 433.10,447.1 433.27,445.5 433.44,447.0 433.61,447.6 433.78,445.8 433.95,448.9 434.12,446.9 434.28,444.9 434.45,443.7 434.62,445.7 434.79,443.9 434.96,446.4 435.13,444.5 435.30,445.5 435.46,445.3 435.61,447.0 435.77,446.7 435.93,446.8 436.09,444.2 436.24,448.4 436.40,448.5 436.56,448.4 436.72,448.0 436.88,451.6 437.04,449.8 437.20,451.1 437.36,449.8 437.52,450.6 437.68,451.4 437.84,451.7 438.00,453.5 438.16,448.0 438.31,453.3 438.47,454.3 438.63,449.6 438.79,449.5 438.94,447.8 439.10,445.8 439.26,445.3 439.42,448.0 439.58,447.9 439.74,447.2 439.90,446.5 440.06,448.1 440.22,451.1 440.38,449.8 440.54,449.4 440.70,450.1 440.87,451.6 441.04,450.3 441.21,450.1 441.38,450.6 441.55,451.9 441.72,449.6 441.88,447.4 442.05,447.9 442.22,447.4 442.39,448.3 442.56,445.7 442.73,446.6 442.90,445.3 443.07,445.4 443.24,445.4 443.41,442.8 443.58,441.8 443.75,443.1 443.92,443.5 444.08,440.4 444.25,441.5 444.42,441.7 444.59,442.0 444.76,443.9 444.93,445.8 445.10,442.5 445.26,441.3 445.42,441.8 445.58,441.6 445.74,441.5 445.90,443.2 446.06,444.3 446.22,442.8 446.38,438.6 446.54,438.9 446.70,438.3 446.87,436.3 447.04,439.8 447.21,435.5 447.38,435.7 447.55,438.8 447.72,441.6 447.89,442.5 448.06,440.7 448.23,442.5 448.40,442.6 448.56,441.2 448.72,441.8 448.88,439.4 449.04,436.6 449.20,438.4 449.36,440.6 449.52,441.4 449.68,436.5 449.84,436.7 450.00,436.1 450.16,435.2 450.32,437.1 450.48,436.5 450.64,435.8 450.80,434.6 450.96,439.8 451.12,439.2 451.28,442.6 451.44,442.6 451.60,440.1 451.76,442.7 451.91,442.2 452.07,441.4 452.23,443.1 452.39,444.8 452.54,442.1 452.70,444.2 452.86,447.5 453.01,444.6 453.17,444.3 453.33,449.4 453.49,448.5 453.64,449.3 453.80,452.2 453.96,449.7 454.12,450.6 454.28,448.8 454.44,446.5 454.60,447.1 454.76,446.6 454.92,448.8 455.08,449.8 455.24,446.0 455.40,446.0 455.57,446.3 455.74,446.1 455.91,444.5 456.08,447.0 456.25,444.6 456.42,447.0 456.58,446.9 456.75,447.8 456.92,441.7 457.09,445.1 457.26,445.4 457.43,443.0 457.60,442.9 457.76,442.7 457.91,445.8 458.07,447.0 458.23,446.5 458.39,446.0 458.54,444.5 458.70,446.7 458.86,449.5 459.01,448.0 459.17,448.3 459.33,449.4 459.49,453.2 459.64,452.8 459.80,452.7 459.96,452.0 460.12,452.5 460.28,452.0 460.44,452.5 460.60,454.6 460.76,453.0 460.92,453.3 461.08,453.6 461.24,453.5 461.40,455.6 461.57,458.7 461.74,457.0 461.91,455.8 462.08,454.2 462.25,456.6 462.42,457.7 462.59,458.9 462.76,458.5 462.93,461.7 463.10,460.3 463.26,457.6 463.42,458.9 463.58,456.4 463.74,457.0 463.90,455.1 464.06,456.0 464.22,457.2 464.38,456.4 464.54,458.3 464.70,457.5 464.86,458.8 465.01,457.8 465.17,461.0 465.33,464.3 465.49,461.4 465.64,464.0 465.80,463.4 465.96,463.6 466.11,464.5 466.27,462.3 466.43,464.0 466.59,463.1 466.74,465.4 466.90,466.1 467.06,463.7 467.22,461.6 467.38,462.9 467.54,461.3 467.70,460.9 467.86,458.8 468.02,460.5 468.18,460.8 468.34,460.2 468.50,456.9 468.67,454.3 468.84,454.7 469.01,451.3 469.18,451.1 469.35,453.3 469.52,453.6 469.69,450.4 469.86,446.4 470.03,447.3 470.20,447.6 470.36,445.8 470.51,444.6 470.67,445.9 470.83,442.8 470.99,444.8 471.14,445.2 471.30,442.8 471.46,439.6 471.62,436.9 471.79,437.2 471.95,438.8 472.11,438.6 472.28,438.7 472.44,437.9 472.60,439.3 472.78,441.3 472.95,441.7 473.12,443.7 473.30,442.8 473.48,444.8 473.65,441.6 473.82,440.2 474.00,443.9 474.16,444.7 474.32,442.2 474.48,442.2 474.64,445.5 474.80,445.0 474.96,442.3 475.12,443.2 475.28,446.4 475.44,444.1 475.60,446.1 475.76,444.9 475.91,446.2 476.07,444.3 476.23,450.2 476.39,447.8 476.54,450.6 476.70,450.6 476.86,450.2 477.02,453.2 477.18,455.2 477.34,452.2 477.50,452.9 477.66,454.7 477.82,452.5 477.98,455.5 478.14,453.7 478.30,455.3 478.46,454.4 478.61,457.9 478.77,458.4 478.93,458.7 479.09,460.2 479.24,459.8 479.40,460.4 479.56,457.6 479.71,460.7 479.87,454.6 480.03,451.8 480.19,452.1 480.34,453.5 480.50,448.7 480.66,451.4 480.81,447.7 480.97,446.5 481.13,447.4 481.29,448.1 481.44,447.5 481.60,447.7 481.76,450.1 481.91,447.6 482.07,446.4 482.23,446.6 482.39,452.9 482.54,449.8 482.70,452.2 482.86,453.5 483.01,454.5 483.17,453.8 483.33,460.1 483.49,460.1 483.64,459.7 483.80,459.2 483.96,459.2 484.11,460.7 484.27,462.2 484.43,465.2 484.59,462.6 484.74,465.5 484.90,466.2 485.06,464.5 485.21,461.7 485.37,464.2 485.53,459.7 485.69,457.5 485.84,460.0 486.00,457.7 486.16,458.2 486.32,454.4 486.48,454.3 486.64,452.6 486.80,458.6 486.96,456.0 487.12,454.6 487.28,456.9 487.44,454.2 487.60,454.8 487.77,454.9 487.94,456.3 488.11,459.0 488.28,457.6 488.45,458.1 488.62,457.8 488.78,458.1 488.95,460.2 489.12,460.0 489.29,459.0 489.46,461.1 489.63,458.6 489.80,458.8 489.96,463.5 490.12,458.0 490.28,459.8 490.44,463.4 490.60,464.3 490.76,462.2 490.92,462.3 491.08,465.7 491.24,462.4 491.40,467.1 491.56,468.4 491.71,465.1 491.87,463.9 492.03,462.1 492.19,460.2 492.34,458.7 492.50,458.0 492.67,456.7 492.84,455.8 493.01,456.2 493.18,459.6 493.35,458.0 493.52,458.3 493.69,457.2 493.86,455.3 494.03,454.6 494.20,453.4 494.36,452.8 494.52,452.0 494.68,454.1 494.85,452.6 495.01,455.2 495.17,454.2 495.33,452.1 495.49,449.7 495.65,450.7 495.82,450.4 495.98,447.9 496.14,451.9 496.30,450.6 496.46,452.3 496.61,448.7 496.77,450.4 496.93,450.2 497.09,449.8 497.24,445.1 497.40,446.5 497.57,445.2 497.74,443.3 497.91,443.2 498.08,444.6 498.25,442.7 498.42,445.4 498.59,444.1 498.76,442.4 498.93,442.7 499.10,444.4 499.26,444.1 499.42,447.9 499.58,442.5 499.74,447.5 499.90,442.6 500.06,441.1 500.22,440.6 500.38,439.6 500.54,437.9 500.70,439.2 500.87,438.6 501.04,439.2 501.21,434.9 501.38,438.0 501.55,431.6 501.72,433.7 501.88,435.7 502.05,434.5 502.22,435.2 502.39,437.2 502.56,437.5 502.73,437.3 502.90,434.7 503.07,434.4 503.24,433.2 503.41,434.5 503.58,436.5 503.75,430.3 503.92,432.7 504.08,429.4 504.25,427.6 504.42,427.8 504.59,424.6 504.76,423.4 504.93,423.3 505.10,424.4 505.28,421.9 505.46,421.0 505.64,422.4 505.82,421.6 506.00,418.6 506.17,417.5 506.33,415.4 506.50,412.7 506.67,413.7 506.84,412.0 507.01,411.0 507.18,410.7 507.35,408.4 507.52,409.7 507.69,411.5 507.86,414.1 508.03,411.6 508.20,411.8 508.36,412.2 508.52,413.8 508.68,413.4 508.84,416.1 509.00,418.6 509.16,415.9 509.32,415.6 509.48,417.7 509.64,415.5 509.80,414.6 509.95,415.3 510.10,414.8 510.25,410.6 510.40,409.3 510.56,409.5 510.72,410.2 510.88,410.9 511.04,410.8 511.20,408.8 511.36,409.6 511.52,406.4 511.68,402.5 511.84,407.2 512.00,407.8 512.16,410.5 512.31,408.6 512.47,410.7 512.63,404.4 512.79,407.2 512.94,405.8 513.10,404.5 513.26,402.0 513.41,402.3 513.57,402.5 513.73,399.9 513.89,401.1 514.04,398.7 514.20,401.8 514.36,401.3 514.51,400.7 514.67,397.5 514.83,402.1 514.99,404.1 515.14,409.9 515.30,408.5 515.46,407.9 515.61,408.5 515.77,403.3 515.93,409.7 516.09,409.6 516.24,405.5 516.40,406.4 516.57,402.8 516.73,397.4 516.90,395.2 517.07,391.4 517.23,394.5 517.40,390.7 517.55,390.1 517.70,395.6 517.85,392.2 518.00,396.3 518.17,398.3 518.33,399.4 518.50,401.2 518.66,401.6 518.81,400.3 518.97,399.3 519.13,400.2 519.29,402.3 519.44,397.6 519.60,400.4 519.75,400.0 519.90,401.3 520.05,402.1 520.20,406.6 520.36,406.4 520.51,407.6 520.67,401.6 520.83,403.5 520.99,400.8 521.14,399.5 521.30,401.7 521.46,402.7 521.61,404.1 521.77,403.8 521.93,404.1 522.09,400.1 522.24,396.9 522.40,399.3 522.57,395.1 522.73,398.2 522.90,401.0 523.07,401.9 523.23,406.6 523.40,406.7 523.56,412.0 523.71,406.9 523.87,410.3 524.03,408.0 524.19,413.1 524.34,412.0 524.50,411.2 524.66,412.1 524.81,412.5 524.97,404.9 525.13,405.6 525.29,403.0 525.44,402.6 525.60,401.1 525.76,405.7 525.91,403.3 526.07,404.0 526.23,408.6 526.39,405.5 526.54,406.3 526.70,407.4 526.86,406.8 527.01,408.5 527.17,409.5 527.33,414.1 527.49,409.9 527.64,409.3 527.80,410.1 527.96,412.8 528.11,408.6 528.27,410.0 528.43,406.2 528.59,405.3 528.74,403.1 528.90,404.7 529.06,408.1 529.21,409.2 529.37,408.3 529.53,411.7 529.69,413.4 529.84,407.2 530.00,412.6 530.16,414.9 530.31,415.5 530.47,416.5 530.63,416.3 530.79,417.6 530.94,421.5 531.10,418.7 531.26,421.4 531.41,420.9 531.57,421.3 531.73,423.6 531.89,422.8 532.04,428.4 532.20,426.1 532.35,427.6 532.50,432.3 532.65,435.4 532.80,438.7 532.97,436.3 533.13,433.5 533.30,434.7 533.47,429.8 533.63,430.4 533.80,425.6 533.96,423.3 534.12,426.6 534.28,423.0 534.44,426.9 534.60,425.0 534.76,422.4 534.92,423.2 535.08,420.3 535.24,420.0 535.40,422.5 535.57,420.5 535.74,418.8 535.91,420.1 536.08,419.9 536.25,421.7 536.42,419.2 536.59,420.7 536.76,420.9 536.93,420.3 537.10,418.6 537.26,419.2 537.41,414.3 537.57,414.4 537.73,413.1 537.89,415.2 538.04,416.7 538.20,411.7 538.36,412.5 538.51,412.4 538.67,415.3 538.83,415.0 538.99,418.1 539.14,419.6 539.30,421.6 539.47,425.5 539.63,425.0 539.80,426.0 539.97,425.6 540.13,428.2 540.30,426.4 540.47,423.6 540.64,426.6 540.81,423.8 540.98,422.8 541.15,419.7 541.32,423.1 541.49,418.8 541.66,418.5 541.83,418.8 542.00,420.8 542.16,421.7 542.31,425.6 542.47,422.5 542.63,425.5 542.79,428.9 542.94,424.5 543.10,425.1 543.26,428.6 543.41,427.3 543.57,425.4 543.73,427.0 543.89,428.9 544.04,427.1 544.20,427.6 544.36,428.9 544.52,423.8 544.68,421.0 544.84,424.0 545.00,423.7 545.16,426.5 545.32,421.3 545.48,424.2 545.64,421.9 545.80,420.4 545.96,423.4 546.11,418.9 546.27,417.2 546.43,418.8 546.59,413.9 546.74,415.0 546.90,416.4 547.07,413.3 547.23,415.1 547.40,412.1 547.56,413.1 547.71,412.8 547.87,409.8 548.03,410.2 548.19,412.6 548.34,417.3 548.50,414.7 548.67,418.2 548.84,415.0 549.01,415.4 549.18,417.1 549.35,417.4 549.52,416.2 549.69,416.0 549.86,416.6 550.03,414.9 550.20,414.6 550.36,416.9 550.51,416.5 550.67,415.4 550.83,414.3 550.99,412.8 551.14,414.7 551.30,417.6 551.47,418.5 551.63,419.6 551.80,416.9 551.97,417.1 552.13,415.5 552.30,415.7 552.48,418.1 552.66,418.0 552.84,420.0 553.02,422.1 553.20,421.9 553.40,437.4 553.60,449.7 553.75,458.8 553.90,465.6 554.05,475.0 554.20,480.5 554.40,484.8 554.60,490.5 554.75,487.0 554.90,484.8 555.05,483.1 555.20,480.0 555.35,477.9 555.50,477.8 555.65,475.7 555.80,473.5 555.98,469.5 556.16,464.2 556.34,457.5 556.52,451.1 556.70,448.3 556.88,450.8 557.05,450.9 557.23,456.4 557.40,458.8 557.57,460.1 557.75,458.0 557.92,456.1 558.10,457.8 558.27,456.2 558.45,454.1 558.62,456.2 558.80,456.2 558.97,456.0 559.15,458.8 559.33,459.0 559.50,460.5 559.67,460.4 559.85,461.4 560.03,462.2 560.20,461.3 560.37,461.1 560.53,461.4 560.70,462.5 560.87,462.5 561.03,462.7 561.20,460.8 561.37,458.4 561.53,460.1 561.70,460.4 561.86,461.0 562.03,462.7 562.19,460.3 562.35,464.4 562.51,465.5 562.67,467.7 562.84,467.1 563.00,469.2 563.16,467.9 563.32,465.2 563.48,463.8 563.64,461.3 563.80,459.5 563.97,457.9 564.15,454.9 564.33,451.0 564.50,449.2 564.67,448.6 564.85,446.6 565.03,443.6 565.20,442.4 565.38,439.1 565.55,438.5 565.73,440.6 565.90,439.0 566.07,437.2 566.24,437.5 566.41,433.8 566.59,433.2 566.76,431.8 566.93,432.8 567.10,429.8 567.27,430.1 567.44,434.4 567.61,428.5 567.78,427.7 567.95,430.8 568.12,426.9 568.28,424.3 568.45,426.3 568.62,422.2 568.79,422.8 568.96,419.8 569.13,423.0 569.30,421.5 569.47,423.0 569.64,421.8 569.81,423.2 569.98,419.8 570.15,417.5 570.32,417.2 570.48,415.1 570.65,414.1 570.82,415.9 570.99,415.8 571.16,415.4 571.33,414.6 571.50,413.3 571.66,411.2 571.81,412.9 571.97,410.1 572.13,413.6 572.29,408.4 572.44,408.6 572.60,406.0" fill="none" stroke="#1f7db3" stroke-width="2.4" stroke-linejoin="round"/>
<path d="M65.50,521.2 65.65,518.6 65.80,516.5 65.97,516.3 66.14,515.5 66.31,514.1 66.49,515.7 66.66,515.4 66.83,515.5 67.00,515.0 67.16,513.5 67.32,512.4 67.48,510.6 67.64,510.3 67.80,509.5 67.97,509.5 68.14,509.0 68.31,508.2 68.47,509.2 68.64,510.3 68.81,507.4 68.98,507.9 69.15,507.6 69.32,506.7 69.49,507.6 69.66,507.0 69.83,505.6 69.99,506.3 70.16,505.7 70.33,506.1 70.50,504.8 70.67,504.8 70.83,506.4 71.00,507.6 71.17,506.8 71.33,505.7 71.50,505.3 71.67,507.4 71.83,506.4 72.00,506.0 72.17,507.5 72.33,508.5 72.50,507.1 72.67,506.0 72.85,507.0 73.02,508.2 73.19,507.3 73.36,508.7 73.54,509.8 73.71,508.6 73.88,509.9 74.05,509.8 74.23,509.9 74.40,510.3 74.57,509.5 74.73,510.5 74.90,510.5 75.07,510.8 75.23,511.6 75.40,509.8 75.57,511.6 75.73,510.0 75.90,509.8 76.07,511.1 76.23,512.0 76.40,511.0 76.60,515.1 76.80,518.8 76.96,518.3 77.11,518.4 77.27,516.5 77.43,515.3 77.59,514.7 77.74,514.0 77.90,513.4 78.07,513.9 78.23,515.9 78.40,515.3 78.57,515.9 78.73,515.6 78.90,515.5 79.07,516.2 79.23,515.2 79.40,517.0 79.57,518.1 79.73,517.6 79.90,518.8 80.07,518.2 80.25,520.0 80.42,519.4 80.59,521.1 80.76,521.3 80.94,520.7 81.11,521.0 81.28,521.9 81.45,522.2 81.63,521.3 81.80,522.0 81.96,522.2 82.12,520.8 82.28,520.0 82.44,521.5 82.60,519.5 82.76,519.2 82.92,518.1 83.08,519.0 83.24,518.3 83.40,517.3 83.57,517.1 83.73,515.0 83.90,516.3 84.07,514.3 84.23,513.7 84.40,514.2 84.57,513.2 84.73,513.7 84.90,512.6 85.07,512.4 85.23,512.4 85.40,514.8 85.57,515.5 85.73,515.3 85.90,515.7 86.07,517.0 86.23,517.0 86.40,518.1 86.57,518.3 86.73,519.2 86.90,518.1 87.07,518.6 87.25,518.8 87.42,518.9 87.59,520.0 87.76,518.3 87.94,518.1 88.11,517.5 88.28,517.2 88.45,516.0 88.63,516.3 88.80,516.5 88.96,516.9 89.12,517.5 89.28,516.8 89.44,517.4 89.60,518.1 89.76,518.0 89.92,519.4 90.08,519.3 90.24,520.0 90.40,519.6 90.56,520.5 90.72,522.0 90.88,523.1 91.04,523.5 91.20,525.7 91.36,526.6 91.52,527.0 91.68,526.7 91.84,529.8 92.00,530.5 92.16,529.7 92.31,529.8 92.47,529.5 92.63,528.4 92.79,527.3 92.94,526.9 93.10,526.6 93.26,525.7 93.42,525.5 93.58,527.4 93.74,526.7 93.90,526.3 94.06,524.3 94.22,525.6 94.38,525.3 94.54,526.1 94.70,525.1 94.87,525.7 95.05,525.9 95.22,526.0 95.39,525.2 95.56,527.6 95.74,527.3 95.91,526.1 96.08,526.8 96.25,529.4 96.43,528.7 96.60,528.2 96.77,528.9 96.94,529.9 97.11,529.3 97.29,529.1 97.46,528.6 97.63,528.8 97.80,528.9 97.97,529.4 98.14,529.1 98.31,529.4 98.49,529.5 98.66,529.2 98.83,530.5 99.00,530.5 99.16,529.8 99.33,529.9 99.49,530.2 99.66,529.9 99.82,529.0 99.99,528.7 100.15,527.9 100.31,526.8 100.48,527.0 100.64,526.8 100.81,525.1 100.97,524.4 101.14,523.4 101.30,523.5 101.47,523.2 101.63,524.2 101.80,524.1 101.97,523.9 102.13,523.5 102.30,524.6 102.47,524.6 102.63,525.9 102.80,526.2 102.97,525.6 103.13,526.1 103.30,526.6 103.47,526.6 103.65,527.6 103.82,527.9 103.99,527.7 104.16,528.0 104.34,527.2 104.51,529.0 104.68,528.5 104.85,528.5 105.03,527.4 105.20,527.4 105.36,526.9 105.52,525.7 105.68,526.7 105.84,527.1 106.00,526.6 106.16,526.5 106.32,527.1 106.48,526.2 106.64,524.1 106.80,524.3 106.97,523.9 107.13,523.3 107.30,522.9 107.47,522.3 107.63,523.0 107.80,522.9 107.97,521.9 108.13,521.0 108.30,521.2 108.46,520.5 108.62,518.8 108.78,516.9 108.94,516.8 109.10,515.7 109.26,515.5 109.43,515.5 109.59,516.0 109.76,516.3 109.92,515.4 110.09,516.9 110.25,515.3 110.41,516.4 110.58,516.0 110.74,516.3 110.91,513.7 111.07,514.5 111.24,514.8 111.40,514.2 111.57,513.8 111.74,514.5 111.91,514.8 112.09,514.2 112.26,513.5 112.43,514.0 112.60,514.0 112.77,513.5 112.94,512.3 113.11,512.9 113.29,512.9 113.46,511.0 113.63,510.8 113.80,511.0 113.96,511.0 114.13,510.0 114.29,510.9 114.46,509.2 114.62,508.9 114.79,507.1 114.95,507.3 115.11,506.2 115.28,507.9 115.44,506.8 115.61,504.9 115.77,504.1 115.94,503.6 116.10,504.8 116.27,505.3 116.44,506.7 116.61,506.4 116.79,505.9 116.96,505.8 117.13,505.4 117.30,505.5 117.47,505.5 117.64,506.1 117.81,506.7 117.99,507.2 118.16,508.4 118.33,506.3 118.50,507.1 118.67,506.6 118.83,509.1 119.00,507.6 119.17,508.4 119.33,508.7 119.50,508.6 119.67,509.1 119.83,508.8 120.00,508.2 120.17,509.3 120.33,510.2 120.50,508.8 120.67,508.9 120.83,509.6 121.00,508.8 121.17,508.8 121.33,509.2 121.50,508.9 121.67,509.6 121.83,510.8 122.00,509.6 122.17,510.1 122.33,510.1 122.50,510.7 122.67,511.5 122.83,512.4 123.00,511.7 123.17,511.0 123.33,513.0 123.50,511.7 123.67,511.0 123.83,512.2 124.00,511.9 124.17,512.9 124.34,511.0 124.51,510.4 124.67,510.5 124.84,509.3 125.01,509.4 125.18,508.6 125.35,508.8 125.52,507.8 125.68,507.0 125.85,508.0 126.02,507.8 126.19,507.5 126.36,508.7 126.53,507.6 126.69,507.5 126.86,507.6 127.03,506.1 127.20,507.2 127.36,508.8 127.53,507.6 127.69,508.2 127.85,508.9 128.02,508.9 128.18,509.7 128.34,508.3 128.51,509.8 128.67,507.8 128.83,511.8 128.99,511.1 129.16,512.2 129.32,513.3 129.48,512.6 129.65,512.2 129.81,511.4 129.97,511.7 130.14,512.5 130.30,513.4 130.47,513.6 130.64,513.4 130.81,513.7 130.98,513.4 131.15,514.0 131.32,513.5 131.49,513.6 131.66,512.5 131.83,513.4 132.00,513.5 132.17,514.4 132.33,513.5 132.50,513.2 132.67,514.6 132.84,513.5 133.01,513.4 133.18,514.6 133.35,513.7 133.52,514.7 133.69,513.5 133.86,513.9 134.03,513.0 134.20,513.4 134.37,513.2 134.54,514.0 134.71,515.2 134.89,515.9 135.06,515.4 135.23,515.5 135.40,515.9 135.57,516.9 135.74,516.4 135.91,516.7 136.09,517.6 136.26,516.7 136.43,516.3 136.60,516.6 136.76,516.8 136.93,517.8 137.09,516.9 137.25,516.3 137.42,516.7 137.58,517.2 137.74,517.5 137.91,517.5 138.07,515.4 138.23,515.4 138.39,514.3 138.56,516.2 138.72,514.1 138.88,514.2 139.05,513.5 139.21,512.1 139.37,512.7 139.54,512.4 139.70,511.9 139.86,510.7 140.03,511.4 140.19,512.3 140.35,511.2 140.52,511.6 140.68,511.4 140.84,512.4 141.01,511.5 141.17,512.0 141.33,512.8 141.49,512.6 141.66,512.3 141.82,512.4 141.98,512.2 142.15,512.7 142.31,513.3 142.47,512.5 142.64,513.4 142.80,512.7 142.97,513.0 143.14,512.6 143.31,514.8 143.47,513.8 143.64,513.0 143.81,515.0 143.98,514.4 144.15,516.1 144.32,515.6 144.48,515.9 144.65,517.8 144.82,517.2 144.99,517.1 145.16,517.0 145.33,519.3 145.49,520.2 145.66,518.6 145.83,519.7 146.00,519.7 146.17,520.1 146.33,519.5 146.50,517.8 146.66,517.7 146.83,518.1 146.99,516.9 147.16,517.3 147.32,516.3 147.49,516.0 147.65,515.3 147.82,514.9 147.98,516.1 148.15,515.0 148.31,514.5 148.48,514.2 148.64,514.0 148.81,513.7 148.97,512.6 149.14,512.5 149.30,512.0 149.47,511.6 149.63,510.7 149.80,510.3 149.97,510.8 150.14,510.8 150.31,511.3 150.49,511.2 150.66,511.3 150.83,511.5 151.00,512.0 151.17,511.7 151.34,511.8 151.51,512.2 151.69,510.7 151.86,511.5 152.03,511.9 152.20,511.9 152.36,510.9 152.53,511.4 152.69,510.7 152.85,510.8 153.02,511.0 153.18,508.5 153.34,509.6 153.51,508.7 153.67,509.3 153.83,509.1 153.99,508.3 154.16,508.6 154.32,508.3 154.48,508.6 154.65,509.1 154.81,506.0 154.97,505.5 155.14,507.2 155.30,506.4 155.46,506.9 155.63,508.1 155.79,508.5 155.95,508.2 156.12,508.6 156.28,508.5 156.44,507.6 156.61,506.8 156.77,507.2 156.93,508.8 157.09,510.3 157.26,510.3 157.42,510.5 157.58,510.6 157.75,509.9 157.91,510.7 158.07,510.0 158.24,511.0 158.40,511.9 158.56,511.4 158.72,511.5 158.88,510.9 159.04,510.5 159.20,512.1 159.36,511.9 159.52,510.8 159.68,511.1 159.84,511.3 160.00,510.8 160.17,510.9 160.34,511.4 160.50,510.1 160.67,509.9 160.84,510.3 161.01,508.9 161.18,509.5 161.35,509.0 161.51,508.0 161.68,507.6 161.85,507.6 162.02,508.7 162.19,507.2 162.35,506.7 162.52,506.2 162.69,508.6 162.86,507.3 163.03,506.6 163.20,505.8 163.36,506.9 163.53,506.1 163.70,507.1 163.87,505.3 164.03,507.0 164.20,506.3 164.36,507.3 164.53,505.8 164.69,506.9 164.86,507.8 165.02,504.5 165.19,504.2 165.35,503.5 165.52,502.2 165.68,502.2 165.85,503.7 166.01,502.3 166.18,501.2 166.34,502.0 166.51,503.6 166.67,502.4 166.84,502.6 167.00,502.8 167.17,503.4 167.33,504.0 167.50,502.4 167.66,502.1 167.83,501.0 167.99,502.8 168.15,502.8 168.32,501.8 168.48,503.2 168.65,502.6 168.81,500.3 168.97,502.7 169.14,501.3 169.30,499.6 169.47,500.4 169.65,500.6 169.82,500.9 169.99,501.1 170.16,500.9 170.34,501.3 170.51,503.0 170.68,502.3 170.85,501.3 171.03,500.4 171.20,500.5 171.37,500.0 171.55,500.7 171.72,498.9 171.89,499.3 172.06,498.9 172.24,498.2 172.41,497.5 172.58,496.7 172.75,497.2 172.93,495.2 173.10,494.9 173.27,496.4 173.45,492.1 173.62,492.8 173.79,491.3 173.96,489.0 174.14,490.4 174.31,489.8 174.48,490.4 174.65,488.6 174.83,487.6 175.00,487.4 175.18,486.3 175.35,486.3 175.53,486.4 175.70,486.1 175.88,485.1 176.05,484.6 176.22,487.1 176.40,486.0 176.58,487.4 176.75,488.8 176.93,485.9 177.10,485.6 177.28,487.7 177.45,487.5 177.62,486.8 177.80,487.4 177.98,487.8 178.16,489.6 178.34,489.8 178.52,489.9 178.70,492.1 178.88,494.1 179.05,493.3 179.22,495.7 179.40,496.3 179.57,495.9 179.75,496.1 179.92,497.4 180.10,496.8 180.28,496.6 180.45,495.1 180.62,496.3 180.80,495.2 180.97,495.1 181.15,495.5 181.32,495.5 181.50,495.8 181.67,494.4 181.85,496.7 182.02,494.3 182.19,496.6 182.36,495.1 182.54,495.0 182.71,493.9 182.88,493.5 183.05,494.5 183.23,494.1 183.40,493.0 183.56,493.8 183.73,494.6 183.89,492.6 184.05,491.2 184.22,489.4 184.38,491.2 184.55,492.4 184.71,491.1 184.87,491.1 185.04,490.9 185.20,488.4 185.37,490.0 185.55,488.6 185.72,489.9 185.89,487.5 186.06,488.4 186.24,488.8 186.41,487.5 186.58,485.1 186.75,485.6 186.93,484.3 187.10,482.8 187.27,483.1 187.45,484.5 187.62,481.6 187.79,481.0 187.96,481.5 188.14,480.6 188.31,479.6 188.48,477.3 188.65,477.8 188.83,479.3 189.00,478.1 189.16,477.8 189.33,481.0 189.49,479.6 189.65,480.7 189.82,482.5 189.98,480.6 190.15,481.1 190.31,482.8 190.47,481.1 190.64,481.1 190.80,481.8 190.98,482.0 191.15,484.7 191.32,484.8 191.50,485.2 191.68,483.8 191.85,486.0 192.02,486.2 192.20,486.5 192.38,488.2 192.55,491.0 192.72,492.3 192.90,494.6 193.07,496.8 193.25,496.0 193.42,499.6 193.60,500.5 193.78,503.8 193.95,502.5 194.12,504.3 194.30,504.1 194.47,506.6 194.65,507.2 194.82,508.0 195.00,509.9 195.18,508.0 195.35,508.6 195.53,509.4 195.70,507.6 195.88,505.8 196.05,506.2 196.22,504.2 196.40,504.3 196.57,502.6 196.75,505.0 196.92,502.8 197.09,503.8 197.26,504.0 197.44,503.3 197.61,502.8 197.78,502.7 197.95,503.1 198.13,504.6 198.30,502.4 198.47,502.1 198.65,503.2 198.82,503.5 198.99,502.2 199.16,504.7 199.34,505.2 199.51,505.0 199.68,506.7 199.85,508.3 200.03,507.8 200.20,508.9 200.37,509.5 200.55,506.7 200.72,505.0 200.89,504.5 201.06,505.7 201.24,503.9 201.41,502.5 201.58,502.0 201.75,501.6 201.93,500.5 202.10,500.5 202.26,499.6 202.43,499.3 202.59,498.8 202.76,499.1 202.92,497.8 203.09,498.4 203.25,496.4 203.41,496.0 203.58,498.3 203.74,496.4 203.91,495.9 204.07,495.0 204.24,495.4 204.40,494.0 204.58,493.6 204.75,494.2 204.93,494.8 205.10,495.2 205.28,495.5 205.45,495.3 205.62,494.9 205.80,495.8 205.97,495.8 206.15,497.2 206.32,497.0 206.49,496.8 206.66,496.2 206.84,497.9 207.01,497.4 207.18,496.5 207.35,496.1 207.53,494.4 207.70,495.8 207.86,496.9 208.03,497.4 208.19,497.2 208.35,497.5 208.52,496.7 208.68,498.9 208.85,497.1 209.01,498.8 209.17,499.0 209.34,498.9 209.50,498.6 209.66,498.0 209.83,498.3 209.99,498.1 210.16,496.7 210.32,498.2 210.49,497.3 210.65,499.8 210.82,497.5 210.98,497.5 211.15,498.5 211.31,499.1 211.48,500.8 211.64,500.0 211.81,498.2 211.97,499.3 212.14,500.1 212.30,500.5 212.47,499.6 212.63,501.9 212.80,501.2 212.96,500.6 213.13,501.7 213.29,501.0 213.46,500.3 213.62,500.3 213.79,498.7 213.95,499.0 214.12,499.5 214.28,498.2 214.45,498.0 214.61,498.4 214.78,498.2 214.94,498.8 215.11,499.8 215.27,500.8 215.44,499.0 215.60,499.8 215.77,498.0 215.93,499.0 216.10,498.6 216.26,499.0 216.43,501.6 216.59,500.6 216.75,501.0 216.92,500.6 217.08,501.4 217.25,502.1 217.41,502.5 217.57,501.4 217.74,503.4 217.90,502.4 218.07,501.8 218.23,502.1 218.40,501.1 218.56,501.7 218.73,503.9 218.89,501.3 219.06,502.2 219.22,502.5 219.39,502.4 219.55,502.2 219.72,502.4 219.88,499.1 220.05,500.4 220.21,500.3 220.38,500.7 220.54,498.9 220.71,498.5 220.87,499.0 221.04,502.0 221.20,501.7 221.37,502.3 221.53,499.7 221.70,500.5 221.87,500.7 222.04,500.3 222.20,500.3 222.37,499.3 222.54,499.2 222.71,497.9 222.88,498.0 223.05,499.0 223.21,498.8 223.38,497.6 223.55,497.9 223.72,498.1 223.89,498.3 224.05,498.4 224.22,497.7 224.39,496.6 224.56,499.5 224.73,499.9 224.90,498.7 225.06,500.7 225.23,500.8 225.40,499.6 225.57,499.9 225.73,499.6 225.90,499.1 226.06,498.7 226.23,499.8 226.39,499.0 226.56,500.0 226.72,500.0 226.89,501.4 227.05,502.2 227.22,502.8 227.38,501.2 227.55,501.8 227.71,501.6 227.88,501.2 228.04,500.3 228.21,500.3 228.37,499.3 228.54,501.0 228.70,502.6 228.87,501.1 229.03,500.9 229.20,501.4 229.40,501.1 229.60,502.0 229.77,501.8 229.94,500.5 230.11,502.1 230.28,501.5 230.45,499.8 230.62,499.0 230.78,499.4 230.95,499.8 231.12,499.7 231.29,499.3 231.46,496.5 231.63,497.2 231.80,498.5 231.97,496.4 232.14,497.6 232.31,498.5 232.48,496.6 232.65,496.6 232.82,495.3 232.98,494.9 233.15,495.3 233.32,495.3 233.49,494.9 233.66,495.7 233.83,495.8 234.00,495.5 234.17,494.9 234.33,495.8 234.50,496.5 234.67,494.7 234.83,497.9 235.00,497.6 235.17,495.2 235.33,497.1 235.50,495.8 235.67,498.2 235.83,497.0 236.00,498.2 236.17,495.7 236.33,495.9 236.50,497.4 236.67,495.3 236.83,495.5 237.00,495.9 237.17,495.4 237.33,494.6 237.50,495.8 237.67,496.1 237.83,495.4 238.00,496.9 238.17,494.3 238.33,495.0 238.50,493.9 238.67,495.5 238.83,493.3 239.00,494.7 239.17,495.0 239.33,493.5 239.50,492.9 239.67,493.5 239.83,493.5 240.00,491.7 240.17,492.0 240.33,492.8 240.50,493.3 240.67,492.6 240.84,493.0 241.01,493.9 241.18,492.3 241.35,493.4 241.52,492.4 241.68,493.3 241.85,494.3 242.02,495.7 242.19,496.0 242.36,496.7 242.53,495.1 242.70,497.3 242.87,497.1 243.04,496.5 243.21,497.1 243.38,496.6 243.55,496.1 243.72,497.3 243.88,497.1 244.05,500.5 244.22,498.5 244.39,500.6 244.56,500.0 244.73,499.6 244.90,498.7 245.06,500.0 245.22,497.7 245.38,498.3 245.55,500.0 245.71,498.0 245.87,499.1 246.03,498.3 246.19,499.9 246.35,499.9 246.52,500.8 246.68,499.7 246.84,501.6 247.00,500.9 247.17,501.3 247.34,501.3 247.51,501.5 247.68,500.4 247.85,499.8 248.02,499.1 248.18,498.2 248.35,498.8 248.52,496.4 248.69,498.4 248.86,496.7 249.03,494.8 249.20,496.7 249.37,495.6 249.54,495.5 249.71,494.6 249.88,494.6 250.05,495.6 250.22,494.1 250.38,491.6 250.55,494.0 250.72,493.9 250.89,493.7 251.06,492.9 251.23,492.4 251.40,493.3 251.56,492.9 251.73,493.6 251.90,493.4 252.06,492.4 252.22,491.6 252.39,491.1 252.56,492.4 252.72,490.6 252.88,491.7 253.05,488.3 253.22,490.0 253.38,487.9 253.54,489.3 253.71,489.1 253.88,486.4 254.04,487.4 254.20,488.0 254.37,488.0 254.53,485.4 254.70,485.7 254.87,482.4 255.04,484.0 255.21,485.6 255.37,486.2 255.54,487.1 255.71,486.5 255.88,487.1 256.05,486.6 256.22,488.7 256.38,489.4 256.55,487.7 256.72,489.9 256.89,488.5 257.06,488.8 257.23,490.0 257.39,489.4 257.56,489.8 257.73,489.1 257.90,491.1 258.06,490.7 258.23,492.8 258.39,492.0 258.56,491.9 258.72,492.2 258.89,493.7 259.06,492.8 259.22,495.0 259.38,494.8 259.55,496.1 259.71,496.6 259.88,496.9 260.04,496.0 260.21,497.8 260.38,494.5 260.54,496.7 260.70,497.0 260.87,498.0 261.03,498.5 261.20,498.7 261.37,499.7 261.53,499.4 261.69,498.9 261.86,498.3 262.02,497.4 262.19,495.6 262.36,497.2 262.52,496.4 262.69,495.7 262.85,495.9 263.01,498.1 263.18,495.2 263.34,498.1 263.51,497.1 263.68,498.6 263.84,496.0 264.00,496.4 264.17,495.5 264.33,495.4 264.50,495.5 264.67,494.6 264.83,495.4 265.00,495.1 265.16,494.9 265.33,494.0 265.49,494.9 265.66,494.8 265.82,494.5 265.99,493.4 266.15,494.1 266.32,493.6 266.48,491.5 266.65,493.2 266.82,491.7 266.98,492.5 267.15,492.9 267.31,493.1 267.48,491.8 267.64,490.9 267.81,490.6 267.97,490.6 268.14,493.1 268.30,491.8 268.47,492.0 268.63,493.4 268.80,493.3 268.97,491.8 269.13,490.7 269.30,491.8 269.46,491.8 269.62,492.4 269.79,492.7 269.96,489.3 270.12,490.4 270.29,490.4 270.45,490.7 270.62,489.0 270.78,490.0 270.94,489.8 271.11,490.9 271.28,490.4 271.44,489.3 271.61,490.1 271.77,488.3 271.94,486.9 272.10,486.8 272.27,486.5 272.43,485.5 272.60,485.1 272.76,482.7 272.93,484.1 273.09,485.5 273.25,486.1 273.42,484.2 273.58,484.6 273.75,484.5 273.92,485.4 274.08,483.6 274.25,482.1 274.41,482.4 274.57,482.7 274.74,483.5 274.90,481.9 275.07,481.1 275.23,482.7 275.40,482.4 275.57,484.1 275.73,481.3 275.90,481.6 276.06,481.3 276.23,482.3 276.39,480.4 276.56,482.3 276.72,482.3 276.89,482.7 277.05,483.4 277.22,482.6 277.38,482.7 277.55,481.6 277.72,482.3 277.88,481.6 278.05,481.8 278.21,481.0 278.38,479.6 278.54,479.0 278.71,478.8 278.87,479.0 279.04,479.8 279.20,478.0 279.37,477.4 279.53,477.3 279.70,479.1 279.87,477.2 280.03,478.0 280.19,475.1 280.36,477.6 280.52,476.8 280.69,476.6 280.86,474.7 281.02,474.3 281.19,475.3 281.35,473.5 281.51,477.3 281.68,471.8 281.84,472.0 282.01,473.7 282.18,474.1 282.34,472.7 282.50,470.7 282.67,470.6 282.83,470.3 283.00,469.3 283.17,467.9 283.34,467.3 283.51,464.5 283.68,465.2 283.85,464.2 284.02,464.8 284.18,462.2 284.35,460.8 284.52,462.6 284.69,461.8 284.86,459.9 285.03,461.1 285.20,458.4 285.36,456.2 285.52,454.5 285.68,452.8 285.85,453.3 286.01,453.9 286.17,453.6 286.33,452.7 286.49,451.1 286.65,451.4 286.82,448.0 286.98,451.9 287.14,449.2 287.30,447.5 287.47,447.0 287.63,444.5 287.80,445.0 287.96,445.9 288.12,447.7 288.29,445.9 288.46,446.2 288.62,443.1 288.79,443.5 288.95,442.0 289.12,441.9 289.28,439.0 289.44,442.6 289.61,439.9 289.78,440.1 289.94,441.9 290.11,441.9 290.27,444.4 290.44,442.0 290.60,441.0 290.77,443.4 290.93,441.4 291.10,444.4 291.26,440.4 291.43,443.8 291.59,444.0 291.75,440.2 291.92,442.7 292.08,439.1 292.25,437.1 292.42,440.2 292.58,440.7 292.75,440.3 292.91,436.8 293.07,440.0 293.24,440.1 293.40,439.3 293.57,438.0 293.73,436.5 293.90,437.7 294.07,436.7 294.24,438.3 294.41,436.3 294.58,437.6 294.75,432.8 294.92,433.2 295.08,433.9 295.25,430.7 295.42,428.7 295.59,426.1 295.76,427.9 295.93,427.8 296.10,427.9 296.27,430.1 296.44,425.8 296.61,422.7 296.77,422.9 296.94,422.7 297.11,417.9 297.28,420.5 297.45,419.9 297.62,420.7 297.78,419.9 297.95,416.2 298.12,415.1 298.29,415.3 298.46,408.4 298.63,414.6 298.79,412.2 298.96,411.6 299.13,410.3 299.30,410.5 299.47,408.1 299.63,407.4 299.80,412.5 299.96,408.7 300.12,407.8 300.29,405.3 300.46,404.1 300.62,403.4 300.79,404.1 300.95,403.8 301.12,401.6 301.28,399.5 301.44,405.0 301.61,396.5 301.78,396.6 301.94,395.3 302.11,397.0 302.27,395.3 302.44,393.7 302.60,394.2 302.77,397.0 302.94,400.8 303.11,396.9 303.28,400.3 303.45,399.7 303.62,394.5 303.78,397.8 303.95,399.7 304.12,404.8 304.29,400.6 304.46,406.4 304.63,405.9 304.80,405.8 304.97,401.6 305.13,404.7 305.30,404.5 305.46,403.4 305.62,404.0 305.79,403.3 305.96,399.1 306.12,401.0 306.29,397.2 306.45,394.5 306.62,398.5 306.78,391.1 306.94,388.0 307.11,387.2 307.28,384.6 307.44,386.8 307.61,381.0 307.77,381.5 307.94,378.2 308.10,377.4 308.27,373.0 308.44,372.6 308.61,372.6 308.77,368.2 308.94,368.8 309.11,367.1 309.28,368.1 309.45,367.1 309.62,364.7 309.78,364.2 309.95,358.2 310.12,359.4 310.29,355.6 310.46,357.8 310.63,349.9 310.79,353.9 310.96,355.1 311.13,347.1 311.30,352.0 311.47,354.8 311.64,354.0 311.81,352.3 311.98,351.5 312.15,355.2 312.32,353.1 312.48,354.0 312.65,356.1 312.82,355.1 312.99,350.7 313.16,356.4 313.33,358.2 313.50,358.5 313.67,352.5 313.84,356.1 314.01,356.1 314.19,351.9 314.36,342.7 314.53,347.2 314.70,346.0 314.87,337.5 315.04,335.2 315.21,338.0 315.39,335.9 315.56,338.4 315.73,336.0 315.90,334.7 316.06,331.3 316.22,330.1 316.38,319.1 316.54,318.9 316.70,324.6 316.86,313.7 317.02,319.4 317.18,320.2 317.34,321.6 317.50,316.0 317.67,311.6 317.83,317.0 318.00,298.6 318.17,302.5 318.33,303.3 318.50,311.7 318.67,307.4 318.83,310.3 319.00,303.5 319.16,297.6 319.32,306.2 319.48,307.9 319.64,309.4 319.80,314.8 319.96,308.7 320.12,307.3 320.28,303.3 320.44,309.2 320.60,308.2 320.77,306.3 320.93,302.9 321.10,308.0 321.27,304.2 321.43,300.0 321.60,295.0 321.77,294.8 321.93,290.9 322.10,291.1 322.26,297.7 322.42,293.3 322.58,296.4 322.74,300.7 322.90,305.1 323.06,309.3 323.22,309.9 323.38,315.0 323.54,315.9 323.70,317.6 323.86,317.9 324.03,317.1 324.19,318.2 324.36,313.2 324.52,311.2 324.69,319.2 324.85,323.1 325.01,318.4 325.18,324.4 325.34,320.9 325.51,326.3 325.67,328.3 325.84,324.8 326.00,330.0 326.16,333.1 326.32,328.9 326.48,324.3 326.64,326.0 326.80,330.4 326.96,332.6 327.12,327.4 327.28,330.0 327.44,335.7 327.60,337.0 327.77,332.4 327.93,334.3 328.10,321.1 328.27,323.4 328.43,315.8 328.60,314.6 328.77,311.4 328.93,310.9 329.10,309.8 329.26,313.9 329.42,303.0 329.58,305.6 329.74,302.9 329.90,298.8 330.06,304.3 330.22,301.7 330.38,301.9 330.54,300.6 330.70,298.9 330.86,295.3 331.02,292.8 331.18,298.8 331.34,297.3 331.50,291.2 331.66,289.1 331.82,286.2 331.98,279.1 332.14,283.9 332.30,281.7 332.48,279.6 332.65,282.0 332.82,277.5 333.00,273.9 333.16,279.6 333.32,279.1 333.48,273.6 333.64,278.6 333.80,283.4 333.96,282.2 334.12,287.3 334.28,284.6 334.44,281.1 334.60,286.4 334.76,278.4 334.92,285.3 335.08,280.2 335.24,278.1 335.40,273.0 335.56,269.8 335.72,268.7 335.88,269.4 336.04,276.3 336.20,269.3 336.36,262.0 336.53,269.5 336.69,271.5 336.86,266.5 337.02,265.1 337.19,271.2 337.35,262.6 337.51,265.5 337.68,266.2 337.84,267.8 338.01,266.2 338.17,260.0 338.34,259.5 338.50,256.8 338.67,257.8 338.83,257.6 339.00,252.9 339.17,254.2 339.33,249.2 339.50,244.3 339.67,252.5 339.83,259.5 340.00,244.3 340.16,245.0 340.32,247.7 340.48,239.6 340.64,245.1 340.80,242.3 340.96,246.4 341.12,244.1 341.28,236.2 341.44,238.2 341.60,240.5 341.76,240.7 341.92,252.9 342.08,249.9 342.24,259.2 342.40,262.0 342.56,267.6 342.72,278.0 342.88,276.0 343.04,286.5 343.20,286.4 343.37,284.4 343.53,281.1 343.70,271.9 343.87,270.6 344.03,264.5 344.20,269.0 344.37,263.3 344.53,265.3 344.70,261.5 344.86,258.9 345.02,257.3 345.18,242.6 345.34,245.4 345.50,253.4 345.66,250.2 345.82,256.4 345.98,248.3 346.14,245.5 346.30,247.5 346.46,255.3 346.62,253.1 346.78,260.5 346.94,263.0 347.10,266.2 347.27,263.1 347.43,272.9 347.60,270.1 347.77,275.4 347.93,274.3 348.10,276.2 348.27,268.4 348.43,265.8 348.60,270.8 348.76,272.3 348.92,269.3 349.08,276.9 349.24,275.9 349.40,278.5 349.56,284.2 349.72,284.6 349.88,286.5 350.04,291.8 350.20,294.2 350.37,292.3 350.53,303.5 350.70,302.8 350.87,305.0 351.03,304.5 351.20,311.1 351.37,309.7 351.53,311.8 351.70,305.1 351.86,312.1 352.02,314.6 352.18,319.2 352.34,320.9 352.50,322.3 352.66,324.3 352.82,318.5 352.98,323.4 353.14,320.5 353.30,322.2 353.47,318.2 353.63,314.4 353.80,312.0 353.97,309.8 354.13,311.6 354.30,308.9 354.47,302.9 354.63,300.7 354.80,294.2 354.96,287.9 355.12,280.8 355.28,282.0 355.44,264.7 355.60,266.2 355.76,269.6 355.92,277.5 356.08,276.6 356.24,270.4 356.40,274.4 356.56,273.9 356.72,271.7 356.88,272.2 357.04,278.2 357.20,281.7 357.37,278.9 357.53,284.6 357.70,284.2 357.87,290.9 358.03,289.9 358.20,300.0 358.37,303.5 358.53,310.1 358.70,308.2 358.86,310.6 359.02,305.4 359.18,317.8 359.34,317.4 359.50,316.7 359.66,314.1 359.82,318.2 359.98,319.5 360.14,314.3 360.30,322.2 360.46,321.4 360.62,329.3 360.78,332.0 360.94,334.2 361.10,340.0 361.26,349.5 361.42,350.3 361.58,364.1 361.74,364.6 361.90,372.0 362.05,390.3 362.20,399.5 362.35,418.1 362.50,431.9 362.67,429.0 362.84,434.3 363.01,433.9 363.18,434.0 363.35,434.8 363.52,440.9 363.68,440.5 363.85,438.6 364.02,446.0 364.19,443.4 364.36,445.4 364.53,446.4 364.70,447.1 364.87,446.1 365.04,446.0 365.21,447.4 365.38,447.0 365.55,452.2 365.72,448.9 365.88,450.8 366.05,453.3 366.22,454.3 366.39,454.2 366.56,454.5 366.73,454.6 366.90,455.9 367.07,454.5 367.24,458.2 367.41,460.5 367.58,461.1 367.75,463.6 367.92,463.9 368.08,465.8 368.25,466.5 368.42,467.8 368.59,469.1 368.76,472.9 368.93,473.8 369.10,471.1 369.27,468.4 369.44,463.1 369.61,465.1 369.78,461.6 369.95,462.9 370.12,459.4 370.28,457.9 370.45,454.2 370.62,452.4 370.79,453.1 370.96,450.1 371.13,445.9 371.30,447.1 371.46,450.4 371.62,446.4 371.78,447.4 371.95,445.4 372.11,440.4 372.27,437.2 372.43,434.2 372.59,437.1 372.75,432.0 372.92,430.0 373.08,428.9 373.24,425.5 373.40,425.4 373.56,422.5 373.73,419.4 373.89,420.5 374.06,419.4 374.22,417.4 374.39,416.3 374.56,415.2 374.72,410.2 374.88,409.7 375.05,407.1 375.21,405.0 375.38,402.6 375.54,398.5 375.71,398.4 375.88,396.4 376.04,393.5 376.20,390.5 376.37,392.6 376.53,391.8 376.70,388.3 376.87,387.5 377.04,386.1 377.21,387.2 377.38,390.7 377.55,385.6 377.72,384.8 377.88,381.5 378.05,380.5 378.22,382.0 378.39,380.8 378.56,380.5 378.73,374.2 378.90,375.3 379.07,369.2 379.24,374.7 379.41,374.8 379.58,379.1 379.75,378.8 379.92,385.5 380.08,381.4 380.25,379.8 380.42,380.9 380.59,381.7 380.76,380.5 380.93,385.4 381.10,381.8 381.26,382.0 381.42,383.9 381.58,381.0 381.75,384.0 381.91,377.8 382.07,373.4 382.23,380.1 382.39,382.0 382.55,379.8 382.72,374.0 382.88,380.0 383.04,372.3 383.20,373.1 383.37,374.1 383.53,372.2 383.69,373.6 383.86,369.9 384.02,377.5 384.19,377.5 384.36,379.4 384.52,379.0 384.69,381.1 384.85,381.7 385.01,376.4 385.18,378.5 385.34,384.9 385.51,384.4 385.68,386.0 385.84,387.8 386.00,385.1 386.17,382.8 386.33,384.7 386.50,386.1 386.67,383.1 386.84,381.2 387.01,382.2 387.18,381.4 387.35,380.1 387.52,381.2 387.68,378.1 387.85,382.0 388.02,379.9 388.19,375.3 388.36,375.3 388.53,370.2 388.70,368.7 388.87,366.8 389.03,369.3 389.19,374.0 389.36,370.6 389.52,374.3 389.69,369.4 389.86,370.6 390.02,366.9 390.19,371.8 390.35,372.5 390.51,375.9 390.68,373.3 390.84,373.9 391.01,374.3 391.18,376.2 391.34,379.0 391.50,379.9 391.67,383.8 391.83,384.1 392.00,384.0 392.17,384.3 392.33,381.7 392.50,382.9 392.67,382.0 392.83,385.2 393.00,388.4 393.17,382.5 393.33,380.7 393.50,377.0 393.67,385.3 393.83,384.4 394.00,379.7 394.17,378.3 394.33,383.7 394.50,376.6 394.67,377.5 394.83,377.6 395.00,377.4 395.17,378.0 395.34,379.1 395.50,374.0 395.67,377.0 395.84,374.2 396.01,370.5 396.18,371.1 396.35,371.3 396.51,371.5 396.68,368.7 396.85,367.5 397.02,369.8 397.19,364.5 397.35,359.8 397.52,360.0 397.69,362.4 397.86,357.6 398.03,356.3 398.20,362.2 398.36,361.1 398.53,357.3 398.70,358.3 398.87,355.4 399.03,357.8 399.19,359.1 399.36,359.4 399.52,360.1 399.69,359.4 399.86,354.1 400.02,356.2 400.19,348.6 400.35,350.6 400.51,352.1 400.68,351.5 400.84,350.9 401.01,351.2 401.18,349.6 401.34,350.3 401.50,345.4 401.67,353.0 401.83,349.7 402.00,350.7 402.17,348.9 402.34,352.1 402.51,345.5 402.68,349.8 402.85,350.4 403.02,349.1 403.18,350.9 403.35,353.0 403.52,354.9 403.69,358.7 403.86,356.7 404.03,358.2 404.20,360.5 404.36,362.6 404.52,362.1 404.68,357.8 404.85,356.8 405.01,357.1 405.17,358.9 405.33,357.9 405.49,363.0 405.65,357.6 405.82,353.4 405.98,354.9 406.14,351.6 406.30,356.1 406.47,361.5 406.64,357.5 406.81,361.1 406.98,362.0 407.15,360.8 407.32,360.7 407.48,354.6 407.65,360.9 407.82,358.0 407.99,367.9 408.16,355.9 408.33,364.2 408.50,364.9 408.67,369.3 408.84,371.0 409.01,371.3 409.18,378.7 409.35,376.7 409.52,385.4 409.68,384.9 409.85,384.6 410.02,386.5 410.19,391.8 410.36,386.9 410.53,393.5 410.70,395.4 410.87,396.9 411.04,397.6 411.21,396.9 411.38,398.4 411.55,398.2 411.72,403.7 411.88,406.5 412.05,412.6 412.22,413.3 412.39,415.3 412.56,417.5 412.73,417.0 412.90,417.1 413.07,419.3 413.23,422.4 413.40,425.4 413.57,427.0 413.73,430.4 413.90,430.6 414.07,434.2 414.23,440.5 414.40,441.1 414.57,439.6 414.74,437.5 414.91,436.1 415.08,433.7 415.25,434.0 415.42,427.1 415.59,426.7 415.76,423.8 415.93,424.8 416.10,421.5 416.27,420.7 416.44,420.9 416.61,422.4 416.78,417.6 416.95,418.1 417.12,417.0 417.28,410.3 417.45,413.7 417.62,413.1 417.79,413.7 417.96,410.3 418.13,410.1 418.30,406.3 418.47,404.9 418.64,407.4 418.81,407.3 418.98,408.8 419.15,408.1 419.32,412.9 419.48,414.1 419.65,412.7 419.82,414.8 419.99,413.3 420.16,416.5 420.33,418.0 420.50,417.1 420.67,417.6 420.84,415.0 421.01,420.4 421.18,414.7 421.35,419.8 421.52,419.2 421.68,422.3 421.85,419.0 422.02,421.0 422.19,423.5 422.36,422.9 422.53,422.3 422.70,423.7 422.87,423.1 423.04,422.7 423.21,422.8 423.38,419.7 423.55,418.0 423.72,419.9 423.88,416.2 424.05,414.9 424.22,412.3 424.39,415.1 424.56,415.3 424.73,410.7 424.90,412.8 425.07,407.0 425.24,408.9 425.41,409.6 425.57,414.4 425.74,415.5 425.91,411.2 426.08,409.2 426.25,410.6 426.42,402.7 426.58,406.1 426.75,401.4 426.92,406.8 427.09,404.3 427.26,403.4 427.43,404.2 427.59,400.9 427.76,403.2 427.93,401.0 428.10,401.9 428.26,398.2 428.43,401.8 428.59,401.9 428.76,401.9 428.92,401.9 429.09,401.9 429.25,399.0 429.41,398.0 429.58,394.6 429.74,397.4 429.91,398.7 430.07,396.4 430.24,395.5 430.40,395.4 430.56,394.3 430.72,396.8 430.88,391.9 431.04,387.0 431.20,387.3 431.36,383.9 431.52,382.4 431.68,384.6 431.84,378.1 432.00,379.1 432.16,378.4 432.31,376.4 432.47,376.9 432.63,378.4 432.79,371.3 432.94,375.5 433.10,374.7 433.27,372.1 433.44,374.5 433.61,375.3 433.78,372.3 433.95,377.4 434.12,374.1 434.28,370.8 434.45,368.7 434.62,372.0 434.79,368.9 434.96,372.9 435.13,369.8 435.30,371.4 435.46,370.9 435.61,373.6 435.77,373.0 435.93,373.2 436.09,369.0 436.24,375.7 436.40,375.8 436.56,375.6 436.72,374.8 436.88,380.7 437.04,377.7 437.20,379.7 437.36,377.5 437.52,378.9 437.68,380.0 437.84,380.4 438.00,383.4 438.16,374.4 438.31,382.9 438.47,384.5 438.63,376.7 438.79,376.5 438.94,373.6 439.10,370.3 439.26,369.5 439.42,373.8 439.58,373.7 439.74,372.4 439.90,371.3 440.06,373.7 440.22,378.7 440.38,376.4 440.54,375.8 440.70,376.9 440.87,379.2 441.04,377.0 441.21,376.7 441.38,377.4 441.55,379.5 441.72,375.6 441.88,372.0 442.05,372.7 442.22,371.9 442.39,373.3 442.56,368.9 442.73,370.3 442.90,368.2 443.07,368.2 443.24,368.2 443.41,363.8 443.58,362.2 443.75,364.2 443.92,364.8 444.08,359.6 444.25,361.4 444.42,361.6 444.59,362.0 444.76,365.0 444.93,368.1 445.10,362.7 445.26,360.7 445.42,361.4 445.58,361.0 445.74,360.8 445.90,363.5 446.06,365.3 446.22,362.8 446.38,355.8 446.54,356.2 446.70,355.1 446.87,351.7 447.04,357.4 447.21,350.3 447.38,350.5 447.55,355.6 447.72,360.1 447.89,361.5 448.06,358.5 448.23,361.5 448.40,361.6 448.56,359.2 448.72,360.1 448.88,356.0 449.04,351.4 449.20,354.3 449.36,357.9 449.52,359.1 449.68,350.9 449.84,351.2 450.00,350.2 450.16,348.5 450.32,351.7 450.48,350.6 450.64,349.5 450.80,347.3 450.96,355.9 451.12,355.0 451.28,360.5 451.44,360.5 451.60,356.2 451.76,360.5 451.91,359.7 452.07,358.3 452.23,361.1 452.39,363.8 452.54,359.2 452.70,362.7 452.86,368.3 453.01,363.3 453.17,362.7 453.33,371.2 453.49,369.7 453.64,371.0 453.80,375.8 453.96,371.6 454.12,373.0 454.28,369.9 454.44,366.0 454.60,366.9 454.76,366.0 454.92,369.8 455.08,371.3 455.24,364.9 455.40,364.9 455.57,365.2 455.74,364.8 455.91,362.2 456.08,366.4 456.25,362.1 456.42,366.2 456.58,366.0 456.75,367.4 456.92,357.0 457.09,362.7 457.26,363.2 457.43,359.0 457.60,358.9 457.76,358.5 457.91,363.6 458.07,365.7 458.23,364.8 458.39,363.8 458.54,361.2 458.70,364.9 458.86,369.7 459.01,367.1 459.17,367.4 459.33,369.2 459.49,375.7 459.64,375.0 459.80,374.7 459.96,373.5 460.12,374.2 460.28,373.4 460.44,374.2 460.60,377.6 460.76,374.9 460.92,375.3 461.08,375.8 461.24,375.7 461.40,379.1 461.57,384.3 461.74,381.4 461.91,379.4 462.08,376.5 462.25,380.6 462.42,382.4 462.59,384.4 462.76,383.7 462.93,389.1 463.10,386.7 463.26,381.9 463.42,384.2 463.58,379.9 463.74,380.9 463.90,377.5 464.06,379.0 464.22,381.0 464.38,379.6 464.54,382.7 464.70,381.3 464.86,383.6 465.01,381.7 465.17,387.1 465.33,392.8 465.49,387.8 465.64,392.3 465.80,391.1 465.96,391.4 466.11,393.0 466.27,389.1 466.43,392.1 466.59,390.3 466.74,394.2 466.90,395.4 467.06,391.4 467.22,387.7 467.38,389.9 467.54,387.0 467.70,386.2 467.86,382.6 468.02,385.5 468.18,386.0 468.34,384.9 468.50,379.1 468.67,374.6 468.84,375.3 469.01,369.4 469.18,369.0 469.35,372.7 469.52,373.2 469.69,367.7 469.86,360.7 470.03,362.2 470.20,362.7 470.36,359.5 470.51,357.3 470.67,359.6 470.83,354.1 470.99,357.5 471.14,358.1 471.30,354.0 471.46,348.3 471.62,343.6 471.79,344.1 471.95,346.8 472.11,346.3 472.28,346.5 472.44,345.1 472.60,347.4 472.78,350.9 472.95,351.5 473.12,355.0 473.30,353.4 473.48,356.7 473.65,351.2 473.82,348.7 474.00,355.1 474.16,356.3 474.32,352.0 474.48,351.9 474.64,357.6 474.80,356.7 474.96,352.0 475.12,353.5 475.28,359.1 475.44,354.9 475.60,358.4 475.76,356.2 475.91,358.5 476.07,355.1 476.23,365.4 476.39,361.1 476.54,366.0 476.70,366.0 476.86,365.2 477.02,370.4 477.18,373.8 477.34,368.5 477.50,369.7 477.66,372.8 477.82,369.0 477.98,374.1 478.14,370.9 478.30,373.6 478.46,372.0 478.61,378.1 478.77,379.0 478.93,379.4 479.09,382.0 479.24,381.2 479.40,382.3 479.56,377.4 479.71,382.7 479.87,372.0 480.03,367.1 480.19,367.6 480.34,370.0 480.50,361.6 480.66,366.3 480.81,359.7 480.97,357.6 481.13,359.1 481.29,360.3 481.44,359.2 481.60,359.4 481.76,363.6 481.91,359.2 482.07,357.1 482.23,357.4 482.39,368.3 482.54,362.9 482.70,367.1 482.86,369.3 483.01,371.0 483.17,369.8 483.33,380.8 483.49,380.7 483.64,379.9 483.80,379.1 483.96,379.1 484.11,381.7 484.27,384.3 484.43,389.4 484.59,384.8 484.74,389.9 484.90,391.1 485.06,388.1 485.21,383.1 485.37,387.4 485.53,379.6 485.69,375.6 485.84,379.9 486.00,375.8 486.16,376.7 486.32,370.0 486.48,369.8 486.64,366.7 486.80,377.3 486.96,372.6 487.12,370.1 487.28,374.0 487.44,369.4 487.60,370.3 487.77,370.4 487.94,372.9 488.11,377.6 488.28,375.2 488.45,375.9 488.62,375.3 488.78,375.9 488.95,379.6 489.12,379.1 489.29,377.3 489.46,380.9 489.63,376.6 489.80,376.9 489.96,385.2 490.12,375.4 490.28,378.6 490.44,384.9 490.60,386.4 490.76,382.6 490.92,382.9 491.08,388.7 491.24,382.9 491.40,391.1 491.56,393.4 491.71,387.6 491.87,385.5 492.03,382.1 492.19,378.7 492.34,375.9 492.50,374.7 492.67,372.4 492.84,370.7 493.01,371.4 493.18,377.4 493.35,374.4 493.52,375.0 493.69,373.0 493.86,369.6 494.03,368.3 494.20,366.0 494.36,364.9 494.52,363.5 494.68,367.1 494.85,364.4 495.01,369.0 495.17,367.3 495.33,363.5 495.49,359.1 495.65,360.9 495.82,360.3 495.98,355.7 496.14,362.8 496.30,360.5 496.46,363.5 496.61,357.0 496.77,359.9 496.93,359.5 497.09,358.8 497.24,350.3 497.40,352.9 497.57,350.4 497.74,346.9 497.91,346.8 498.08,349.3 498.25,345.8 498.42,350.5 498.59,348.3 498.76,345.0 498.93,345.6 499.10,348.5 499.26,348.0 499.42,354.8 499.58,345.0 499.74,354.0 499.90,345.1 500.06,342.4 500.22,341.4 500.38,339.6 500.54,336.5 500.70,338.7 500.87,337.7 501.04,338.6 501.21,330.8 501.38,336.4 501.55,324.8 501.72,328.5 501.88,332.1 502.05,329.8 502.22,331.1 502.39,334.7 502.56,335.0 502.73,334.6 502.90,330.0 503.07,329.3 503.24,327.1 503.41,329.5 503.58,333.0 503.75,321.8 503.92,326.1 504.08,319.9 504.25,316.6 504.42,317.0 504.59,311.2 504.76,308.8 504.93,308.7 505.10,310.6 505.28,306.0 505.46,304.3 505.64,306.9 505.82,305.2 506.00,299.8 506.17,297.8 506.33,293.9 506.50,288.9 506.67,290.7 506.84,287.5 507.01,285.7 507.18,284.9 507.35,280.8 507.52,283.1 507.69,286.2 507.86,291.0 508.03,286.3 508.20,286.7 508.36,287.4 508.52,290.2 508.68,289.3 508.84,294.2 509.00,298.7 509.16,293.7 509.32,293.2 509.48,296.9 509.64,292.8 509.80,291.1 509.95,292.4 510.10,291.3 510.25,283.7 510.40,281.3 510.56,281.6 510.72,282.7 510.88,283.9 511.04,283.7 511.20,280.1 511.36,281.5 511.52,275.6 511.68,268.4 511.84,276.9 512.00,278.0 512.16,282.7 512.31,279.3 512.47,283.0 512.63,271.5 512.79,276.6 512.94,273.8 513.10,271.4 513.26,266.9 513.41,267.2 513.57,267.7 513.73,262.7 513.89,264.9 514.04,260.4 514.20,266.0 514.36,265.1 514.51,263.9 514.67,258.0 514.83,266.4 514.99,270.0 515.14,280.5 515.30,278.0 515.46,276.7 515.61,277.8 515.77,268.1 515.93,279.9 516.09,279.7 516.24,272.0 516.40,273.6 516.57,267.0 516.73,257.0 516.90,252.9 517.07,245.8 517.23,251.4 517.40,244.2 517.55,243.1 517.70,253.0 517.85,246.7 518.00,254.0 518.17,257.7 518.33,259.5 518.50,262.7 518.66,263.4 518.81,260.9 518.97,258.9 519.13,260.4 519.29,264.2 519.44,255.4 519.60,260.5 519.75,259.6 519.90,261.9 520.05,263.2 520.20,271.4 520.36,270.9 520.51,273.0 520.67,261.9 520.83,265.3 520.99,260.1 521.14,257.7 521.30,261.6 521.46,263.3 521.61,265.8 521.77,265.1 521.93,265.6 522.09,258.0 522.24,251.8 522.40,256.2 522.57,248.3 522.73,254.0 522.90,259.0 523.07,260.7 523.23,269.2 523.40,269.3 523.56,279.2 523.71,269.4 523.87,275.8 524.03,271.3 524.19,280.7 524.34,278.5 524.50,276.9 524.66,278.6 524.81,279.2 524.97,264.9 525.13,266.0 525.29,261.1 525.44,260.1 525.60,257.3 525.76,265.7 525.91,261.2 526.07,262.4 526.23,270.8 526.39,264.9 526.54,266.3 526.70,268.2 526.86,267.0 527.01,270.2 527.17,272.0 527.33,280.5 527.49,272.4 527.64,271.1 527.80,272.5 527.96,277.5 528.11,269.4 528.27,272.0 528.43,264.8 528.59,263.0 528.74,258.7 528.90,261.6 529.06,267.9 529.21,269.8 529.37,268.0 529.53,274.3 529.69,277.5 529.84,265.7 530.00,275.8 530.16,280.0 530.31,281.1 530.47,282.8 530.63,282.3 530.79,284.8 530.94,292.0 531.10,286.7 531.26,291.7 531.41,290.5 531.57,291.3 531.73,295.5 531.89,293.8 532.04,304.4 532.20,300.0 532.35,302.8 532.50,311.7 532.65,317.4 532.80,323.7 532.97,319.0 533.13,313.6 533.30,315.7 533.47,306.3 533.63,307.4 533.80,298.0 533.96,293.6 534.12,299.7 534.28,292.8 534.44,300.1 534.60,296.4 534.76,291.3 534.92,292.8 535.08,287.1 535.24,286.3 535.40,291.1 535.57,287.0 535.74,283.6 535.91,286.0 536.08,285.6 536.25,289.0 536.42,284.0 536.59,286.9 536.76,287.0 536.93,285.9 537.10,282.3 537.26,283.5 537.41,273.8 537.57,273.9 537.73,271.3 537.89,275.3 538.04,278.1 538.20,268.2 538.36,269.7 538.51,269.5 538.67,275.0 538.83,274.3 538.99,280.2 539.14,282.9 539.30,286.7 539.47,294.2 539.63,293.2 539.80,295.0 539.97,294.0 540.13,299.1 540.30,295.4 540.47,289.9 540.64,295.5 540.81,290.0 540.98,288.0 541.15,281.8 541.32,288.3 541.49,279.8 541.66,279.1 541.83,279.7 542.00,283.4 542.16,285.0 542.31,292.7 542.47,286.4 542.63,292.3 542.79,298.8 542.94,290.0 543.10,291.1 543.26,297.8 543.41,295.2 543.57,291.3 543.73,294.4 543.89,298.2 544.04,294.4 544.20,295.4 544.36,297.7 544.52,287.6 544.68,282.1 544.84,287.9 545.00,287.1 545.16,292.5 545.32,282.1 545.48,287.8 545.64,283.3 545.80,280.2 545.96,285.9 546.11,277.0 546.27,273.5 546.43,276.6 546.59,266.8 546.74,268.8 546.90,271.4 547.07,265.3 547.23,268.8 547.40,262.7 547.56,264.5 547.71,263.8 547.87,257.9 548.03,258.5 548.19,263.3 548.34,272.4 548.50,267.1 548.67,273.9 548.84,267.6 549.01,268.3 549.18,271.6 549.35,272.1 549.52,269.5 549.69,269.1 549.86,270.2 550.03,266.8 550.20,266.0 550.36,270.5 550.51,269.7 550.67,267.3 550.83,265.1 550.99,262.1 551.14,265.8 551.30,271.4 551.47,273.1 551.63,275.3 551.80,269.8 551.97,270.1 552.13,266.9 552.30,267.1 552.48,271.8 552.66,271.5 552.84,275.3 553.02,279.5 553.20,279.1 553.40,310.0 553.60,334.6 553.75,352.7 553.90,366.3 554.05,385.0 554.20,396.0 554.40,404.7 554.60,416.0 554.75,409.0 554.90,404.5 555.05,401.1 555.20,395.0 555.35,390.8 555.50,390.4 555.65,386.1 555.80,381.8 555.98,373.7 556.16,363.1 556.34,349.6 556.52,336.7 556.70,331.0 556.88,336.0 557.05,336.1 557.23,347.1 557.40,352.0 557.57,354.6 557.75,350.2 557.92,346.5 558.10,349.7 558.27,346.5 558.45,342.3 558.62,346.5 558.80,346.5 558.97,345.9 559.15,351.5 559.33,352.0 559.50,355.0 559.67,354.7 559.85,356.6 560.03,358.2 560.20,356.3 560.37,356.0 560.53,356.6 560.70,358.8 560.87,358.6 561.03,359.1 561.20,355.1 561.37,350.2 561.53,353.7 561.70,354.2 561.86,355.3 562.03,358.9 562.19,353.9 562.35,362.1 562.51,364.3 562.67,368.8 562.84,367.6 563.00,371.7 563.16,369.2 563.32,363.7 563.48,360.7 563.64,355.7 563.80,352.0 563.97,348.7 564.15,342.5 564.33,334.6 564.50,331.0 564.67,329.7 564.85,325.7 565.03,319.5 565.20,317.0 565.38,310.4 565.55,309.1 565.73,313.4 565.90,310.0 566.07,306.3 566.24,306.8 566.41,299.3 566.59,298.0 566.76,295.2 566.93,297.1 567.10,291.0 567.27,291.6 567.44,300.3 567.61,288.3 567.78,286.5 567.95,292.8 568.12,284.8 568.28,279.5 568.45,283.5 568.62,275.1 568.79,276.3 568.96,270.2 569.13,276.7 569.30,273.6 569.47,276.4 569.64,274.1 569.81,276.9 569.98,269.9 570.15,265.1 570.32,264.4 570.48,260.2 570.65,258.0 570.82,261.7 570.99,261.5 571.16,260.6 571.33,258.9 571.50,256.1 571.66,251.8 571.81,255.2 571.97,249.6 572.13,256.6 572.29,246.0 572.44,246.3 572.60,240.9" fill="none" stroke="#dc0d17" stroke-width="2.4" stroke-linejoin="round"/>

<!-- circle annotation -->
<circle cx="251" cy="280.3" r="47.3" fill="none" stroke="#dc3a35" stroke-width="1.1"/>
<path d="M208.7 279.7H292.1" stroke="#e0504c" stroke-width="1.5"/>
<g font-size="14">
<text x="226" y="254.8" font-weight="bold" fill="#d8101a">ATX TR<tspan font-size="10" dy="-3.5">*</tspan></text>
<text x="223" y="272.2" fill="#999" font-size="15" textLength="55.5" lengthAdjust="spacingAndGlyphs">+678 %</text>
<text x="237.6" y="298.3" font-weight="bold" fill="#2a86ba" font-size="14.2">ATX</text>
<text x="223" y="315.3" fill="#999" font-size="15" textLength="55.5" lengthAdjust="spacingAndGlyphs">+338 %</text>
</g>

<!-- right top -->
<text x="603.8" y="160" font-size="19.8" font-weight="bold" fill="#000" textLength="353.6" lengthAdjust="spacingAndGlyphs">ATX Mitglieder ohne Unterbrechung</text>
<rect x="604" y="181" width="116" height="106.5" fill="url(#gB)"/>
<rect x="733" y="181" width="116" height="106.5" fill="url(#gB)"/>
<rect x="862" y="181" width="116" height="106.5" fill="url(#gB)"/>

<!-- OMV logo -->
<g fill="#0c4387">
<circle cx="635.6" cy="219.8" r="11.8"/>
<rect x="649.7" y="208.3" width="22.2" height="22.6"/>
<path d="M674 208.3H699.7L687.3 231.4Z"/>
</g>
<g stroke="#fff" stroke-width="0.9">
<path d="M633.9 217.1L639.4 208"/>
<path d="M655 217.1L660 208"/>
<path d="M662.5 217.1L667.9 208"/>
<path d="M685.3 217.1L690.3 208"/>
</g>
<path d="M624 235.8H699.3" stroke="#7cc242" stroke-width="1.6"/>
<g font-size="27.5" fill="#111" stroke="#111" stroke-width="0.6"><text transform="translate(623.4 261.7) scale(1.03 1)">O</text><text transform="translate(645.9 261.7) scale(1.22 1)">M</text><text transform="translate(675 261.7) scale(1.17 1)">V</text></g>

<text x="744.9" y="245.2" font-size="25" font-weight="bold" fill="#1a52a0" stroke="#1a52a0" stroke-width="0.4" textLength="94.6" lengthAdjust="spacingAndGlyphs">Verbund</text>
<text x="871.8" y="241.8" font-size="17" font-weight="bold" fill="#111" stroke="#111" stroke-width="0.25" textLength="95.2" lengthAdjust="spacingAndGlyphs">wienerberger</text>

<!-- right bottom -->
<text x="604.6" y="351" font-size="19.4" font-weight="bold" fill="#000" textLength="171" lengthAdjust="spacingAndGlyphs">Branchenstruktur</text>
<text x="603.6" y="373.8" font-size="19.5" fill="#444" textLength="38.5" lengthAdjust="spacingAndGlyphs">in %</text>

<!-- donut -->
<path d="M716.90,494.50 L716.90,385.70 A108.8,108.8 0 0 1 769.31,589.84 Z" fill="#d41219"/>
<path d="M716.90,494.50 L769.31,589.84 A108.8,108.8 0 0 1 608.31,501.33 Z" fill="#565656"/>
<path d="M716.90,494.50 L608.31,501.33 A108.8,108.8 0 0 1 633.07,425.15 Z" fill="#9e9e9e"/>
<path d="M716.90,494.50 L633.07,425.15 A108.8,108.8 0 0 1 696.51,387.63 Z" fill="#c0c0c0"/>
<path d="M716.90,494.50 L696.51,387.63 A108.8,108.8 0 0 1 710.07,385.91 Z" fill="#d6d6d6"/>
<path d="M716.90,494.50 L710.07,385.91 A108.8,108.8 0 0 1 716.90,385.70 Z" fill="#e2e2e2"/>
<path d="M716.90,434.50 L716.90,384.70" stroke="#fff" stroke-width="1"/>
<path d="M745.81,547.08 L769.80,590.72" stroke="#fff" stroke-width="1"/>
<path d="M657.02,498.27 L607.32,501.39" stroke="#fff" stroke-width="1"/>
<path d="M670.67,456.25 L632.30,424.51" stroke="#fff" stroke-width="1"/>
<path d="M705.66,435.56 L696.33,386.64" stroke="#fff" stroke-width="1"/>
<path d="M713.13,434.62 L710.01,384.92" stroke="#fff" stroke-width="1"/>
<circle cx="718.4" cy="496.0" r="70.2" fill="#fff"/>
<g font-size="13.5" fill="#fff" text-anchor="middle"><text x="804.8" y="488.2" opacity="1">42</text><text x="676" y="577.1" opacity="1">32</text><text x="631.4" y="471.6" opacity="0.95">12</text><text x="671.3" y="423" opacity="0.75">11</text><text x="704.5" y="407.2" opacity="0.6">2</text><text x="713" y="407.2" opacity="0.6">1</text></g>

<!-- legend -->
<g font-size="14.8" fill="#333">
<rect x="853.9" y="430" width="9.5" height="9.5" fill="#d2111a"/>
<text x="870.50" y="439.5" textLength="79.00" lengthAdjust="spacingAndGlyphs">Finanzwesen</text>
<rect x="853.9" y="454.5" width="9.5" height="9.5" fill="#5a5a5a"/>
<text x="871.00" y="464" textLength="90.50" lengthAdjust="spacingAndGlyphs">Grundindustrie</text>
<rect x="853.9" y="479.5" width="9.5" height="9.5" fill="#9b9b9b"/>
<text x="870.50" y="489" textLength="97.50" lengthAdjust="spacingAndGlyphs">Industriegüter &amp;</text>
<text x="870.50" y="505.7" textLength="101.50" lengthAdjust="spacingAndGlyphs">Dienstleistungen</text>
<rect x="853.9" y="521.2" width="9.5" height="9.5" fill="#b4b4b4"/>
<text x="871.00" y="530.7" textLength="59.00" lengthAdjust="spacingAndGlyphs">Versorger</text>
<rect x="853.9" y="545" width="9.5" height="9.5" fill="#d3d3d3"/>
<text x="871.00" y="554.5" textLength="86.00" lengthAdjust="spacingAndGlyphs">Technologie &amp;</text>
<text x="871.00" y="571.2" textLength="52.50" lengthAdjust="spacingAndGlyphs">Telekom</text>
<rect x="853.9" y="585.1" width="9.5" height="9.5" fill="#dedede"/>
<text x="870.00" y="594.6" textLength="83.50" lengthAdjust="spacingAndGlyphs">Konsumgüter</text>
</g>

<text transform="translate(1017.1 625) rotate(-90)" font-size="14.3" fill="#222" textLength="272.5" lengthAdjust="spacingAndGlyphs">Quelle: Wiener Börse AG, Stand: 10. Mai 2021</text>

<!-- watermark -->
<g font-size="22.6">
<text x="313.6" y="409.4" fill="#222" opacity="0.8" stroke="#222" stroke-width="0.5" textLength="381.5" lengthAdjust="spacingAndGlyphs">zur Verfügung gestellt für photaq.com</text>
<text x="312.3" y="408" fill="#d4d4d4" stroke="#2a2a2a" stroke-width="1.1" paint-order="stroke" textLength="381.5" lengthAdjust="spacingAndGlyphs">zur Verfügung gestellt für photaq.com</text>
</g>
</svg>
</body></html>
